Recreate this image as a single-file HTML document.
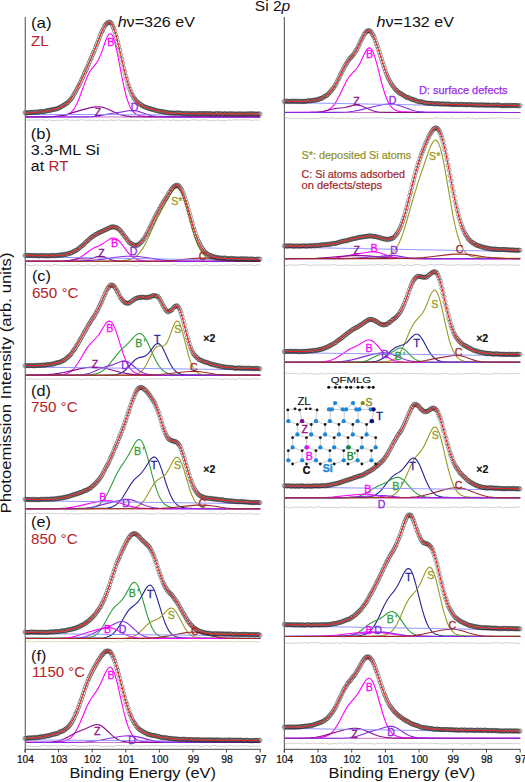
<!DOCTYPE html><html><head><meta charset="utf-8"><style>html,body{margin:0;padding:0;background:#fff;font-family:"Liberation Sans",sans-serif}svg{display:block}</style></head><body><svg width="525" height="782" viewBox="0 0 525 782" font-family="&quot;Liberation Sans&quot;, sans-serif">
<defs><marker id="dc" markerWidth="6" markerHeight="6" refX="3" refY="3" markerUnits="userSpaceOnUse"><circle cx="3" cy="3" r="2.1" fill="none" stroke="#202020" stroke-opacity="0.7" stroke-width="0.6"/></marker></defs>
<rect width="525" height="782" fill="#fff"/>
<path d="M25,120.1 26.7,119.9 28.4,120.5 30,119.8 31.7,120.3 33.4,120.1 35.1,119.8 36.8,120.3 38.4,119.7 40.1,120.2 41.8,119.8 43.5,119.8 46.8,120.7 48.5,119.8 50.2,120 53.6,120.8 55.2,120.4 56.9,120.2 58.6,120.9 60.3,119.8 62,120.7 63.6,120 65.3,119.9 67,119.8 68.7,120.1 70.4,120.7 72,119.9 73.7,120.4 75.4,120.5 77.1,120.1 78.8,120.4 80.4,119.8 82.1,119.8 83.8,119.9 85.5,120.5 87.2,120.2 88.8,120.1 90.5,120.4 93.9,120.1 95.6,120.7 97.2,120.5 98.9,120 100.6,120.4 102.3,120.3 104,120.8 105.6,120.6 107.3,120 109,120.9 110.7,119.8 114,120.6 115.7,119.9 117.4,120.3 119.1,119.7 120.8,120.5 122.4,120.6 124.1,120.4 125.8,120.8 127.5,120.1 129.2,120.5 134.2,120.2 135.9,120.7 137.6,120.8 139.2,120.3 140.9,120.5 142.6,119.8 144.3,120.5 146,120.5 147.6,120.9 149.3,120.7 151,120 152.7,120.2 154.4,120.5 156,119.7 157.7,120.3 159.4,119.9 162.8,119.8 164.4,120.6 166.1,119.9 169.5,120.2 171.2,120.7 172.8,119.8 174.5,120.2 176.2,120.4 177.9,120.8 179.6,120.7 181.2,120.7 182.9,120 184.6,120.2 186.3,120.1 188,120.8 189.6,120.8 191.3,119.9 196.4,120 198,120.3 199.7,120.4 203.1,119.7 204.8,120.2 206.4,120.1 208.1,120.4 209.8,120.8 213.2,120.3 216.5,120.5 218.2,119.8 219.9,120.8 221.6,120.6 223.2,120.7 224.9,120.7 226.6,120.2 228.3,120.2 230,119.8 231.6,120.5 233.3,119.8 235,119.8 236.7,120 238.4,119.9 240,120.1 241.7,119.8 243.4,119.7 245.1,119.9 246.8,119.8 248.4,120.1 250.1,119.7 251.8,120.7 253.5,120.4 255.2,119.9 258.5,120.1 260.2,120.1" stroke="#c8c8c8" stroke-width="0.9" fill="none"/>
<path d="M25,117H260.2" stroke="#c060c0" stroke-width="0.85"/>
<path d="M25,116.8 51,116.6 56.9,116.4 61.1,116.2 64.5,115.7 67,114.9 68.7,114.1 69.5,113.5 71.2,112.2 72.9,110.4 74.6,108 75.4,106.5 77.1,103.3 79.6,97.3 84.6,83.4 86.3,79 88,75.1 88.8,73.4 89.7,71.8 91.4,69.2 95.6,64.1 97.2,61.7 98.1,60.3 98.9,58.7 100.6,54.9 102.3,50.4 105.6,40.8 107.3,36.8 108.2,35.3 109,34.2 109.8,33.7 110.7,33.7 111.5,34.3 112.4,35.4 113.2,37.2 114,39.6 114.9,42.4 115.7,45.8 117.4,53.5 121.6,75.5 123.3,83.8 125,91.2 125.8,94.5 127.5,100.3 129.2,104.9 130,106.7 131.7,109.8 133.4,111.9 134.2,112.8 135.9,114 136.7,114.5 138.4,115.2 140.9,115.8 145.1,116.2 151.8,116.5 165.3,116.7 185.4,116.8 260.2,117" stroke="#ff00ff" stroke-width="1.1" fill="none"/>
<path d="M25,117 41,116.9 48.5,116.8 54.4,116.5 59.4,115.9 62.8,115.4 67,114.4 80.4,110.4 89.7,107.9 92.2,107.4 94.7,106.9 98.1,106.7 99.8,106.8 101.4,107 103.1,107.4 104.8,107.9 108.2,109.2 116.6,113.2 119.1,114.2 121.6,115 124.1,115.6 126.6,116.1 131.7,116.6 138.4,116.8 149.3,116.9 260.2,117" stroke="#8b0d8b" stroke-width="1.1" fill="none"/>
<path d="M25,117 78.8,116.9 86.3,116.9 91.4,116.7 94.7,116.4 98.1,116 101.4,115.4 112.4,113.3 120.8,112.1 128.3,110.8 130.8,110.6 132.5,110.5 135,110.7 136.7,111 138.4,111.4 140.9,112.2 147.6,114.6 151.8,115.7 156,116.4 160.2,116.7 165.3,116.9 174.5,117 260.2,117" stroke="#8a2be2" stroke-width="1.1" fill="none"/>
<path d="M25,114.3L260.2,115.2" stroke="#8a8aff" stroke-width="0.9"/>
<polyline points="25,112.5 26,113 27,113.1 28,112.7 29,112.6 30,112.3 31,112.3 32.1,112.4 33.1,112.3 34.1,112.6 35.1,112.1 36.1,111.9 37.1,112.5 38.1,112.1 39.1,111.7 40.1,111.9 41.1,111.4 42.1,111.6 43.1,111.8 44.2,111.6 45.2,111.3 46.2,110.8 47.2,110.7 48.2,110.4 49.2,110.6 50.2,110.2 51.2,110.2 52.2,109.6 53.2,109.3 54.2,109.5 55.2,109.3 56.2,108.9 57.3,108.6 58.3,108.2 59.3,107.8 60.3,107 61.3,106.8 62.3,106.2 63.3,105.4 64.3,104.8 65.3,104.2 66.3,103.5 67.3,102.9 68.3,102.1 69.4,100.7 70.4,99.9 71.4,98.7 72.4,97.3 73.4,95.4 74.4,93.6 75.4,91.9 76.4,90.1 77.4,88.1 78.4,86.4 79.4,84.5 80.4,82.4 81.4,79.9 82.5,77.8 83.5,75.7 84.5,72.9 85.5,71.1 86.5,69 87.5,66.6 88.5,64.3 89.5,61.8 90.5,59.3 91.5,57.4 92.5,54.7 93.5,52.6 94.6,50.3 95.6,47.4 96.6,44.9 97.6,42.7 98.6,40 99.6,37 100.6,34.5 101.6,32.1 102.6,30.4 103.6,28.3 104.6,25.9 105.6,24.8 106.6,23.7 107.7,22.7 108.7,22.1 109.7,22.3 110.7,22.7 111.7,23.8 112.7,26.2 113.7,28.3 114.7,31 115.7,34.5 116.7,37.8 117.7,42.1 118.7,46.2 119.8,50.2 120.8,54.7 121.8,59.2 122.8,63.5 123.8,68.1 124.8,72 125.8,76 126.8,79.5 127.8,83.4 128.8,86.2 129.8,89.1 130.8,91.7 131.8,94.2 132.9,95.8 133.9,97.9 134.9,99.2 135.9,100.5 136.9,101.7 137.9,102.3 138.9,103.5 139.9,104.1 140.9,104.6 141.9,105.8 142.9,105.8 143.9,106.5 145,107.1 146,107.4 147,107.6 148,108.1 149,108.5 150,108.9 151,108.8 152,109.4 153,109.4 154,109.7 155,110.3 156,110.4 157,110.7 158.1,111 159.1,111.3 160.1,111.2 161.1,111.5 162.1,111.6 163.1,111.8 164.1,112.1 165.1,112.1 166.1,112.3 167.1,112.4 168.1,112.8 169.1,112.8 170.2,113 171.2,113.1 172.2,112.7 173.2,113 174.2,113.4 175.2,113.4 176.2,112.9 177.2,113 178.2,113.2 179.2,113 180.2,113.2 181.2,113.1 182.2,113.6 183.3,113.7 184.3,113.8 185.3,113.3 186.3,113.7 187.3,113.7 188.3,113.3 189.3,113.9 190.3,113.9 191.3,113.4 192.3,114 193.3,113.6 194.3,113.7 195.4,114 196.4,113.9 197.4,113.5 198.4,113.7 199.4,113.7 200.4,113.6 201.4,113.5 202.4,113.6 203.4,113.9 204.4,113.4 205.4,113.8 206.4,113.7 207.4,113.5 208.5,113.7 209.5,113.9 210.5,113.8 211.5,113.5 212.5,114.2 213.5,114 214.5,114.2 215.5,113.6 216.5,113.7 217.5,113.5 218.5,114.1 219.5,113.7 220.6,113.6 221.6,113.8 222.6,114.2 223.6,114.1 224.6,113.7 225.6,113.7 226.6,114.2 227.6,114 228.6,114.1 229.6,113.7 230.6,113.6 231.6,114.1 232.6,113.9 233.7,113.7 234.7,114.3 235.7,114.1 236.7,114.2 237.7,113.7 238.7,114.2 239.7,113.7 240.7,114.3 241.7,114 242.7,113.9 243.7,114.1 244.7,114.3 245.8,113.9 246.8,113.8 247.8,114.1 248.8,113.9 249.8,113.8 250.8,113.8 251.8,113.8 252.8,113.9 253.8,113.9 254.8,113.9 255.8,114.3 256.8,113.9 257.8,114.1 258.9,113.9 259.9,114" fill="none" stroke="none" marker-start="url(#dc)" marker-mid="url(#dc)" marker-end="url(#dc)"/>
<path d="M25,112.8 33.4,112.4 41,111.7 47.7,110.7 51,110 54.4,109.2 56.9,108.5 59.4,107.6 62.8,106 64.5,105 66.2,103.8 67.8,102.3 69.5,100.6 72,97.4 74.6,93.6 77.1,89 80.4,82.1 85.5,70.9 92.2,55.6 94.7,49.6 100.6,34.8 103.1,29.1 104.8,25.9 105.6,24.6 106.5,23.6 107.3,22.8 108.2,22.3 109,22.2 109.8,22.4 110.7,22.9 111.5,23.9 112.4,25.2 113.2,27 114.9,31.5 116.6,37.2 118.2,43.9 123.3,65.9 125.8,76.1 128.3,84.7 130,89.5 130.8,91.6 132.5,95.3 133.4,96.8 135,99.4 135.9,100.5 137.6,102.4 139.2,103.8 140.9,105 143.4,106.3 146.8,107.7 151,109 155.2,110.2 159.4,111.1 163.6,111.9 167.8,112.5 172.8,113 181.2,113.4 193,113.7 260.2,114.1" stroke="#f01e1e" stroke-width="1.05" fill="none"/>
<text x="110.7" y="45.6" fill="#ff00ff" font-size="10.6" text-anchor="middle" stroke="#ff00ff" stroke-width="0.3">B</text>
<text x="98" y="115.5" fill="#8b0d8b" font-size="10.6" text-anchor="middle" stroke="#8b0d8b" stroke-width="0.3">Z</text>
<text x="134.7" y="111.3" fill="#8a2be2" font-size="10.6" text-anchor="middle" stroke="#8a2be2" stroke-width="0.3">D</text>
<path d="M284.3,117.7 286,118 287.7,117.7 289.4,118.6 291,118.4 292.7,117.9 294.4,118.3 296.1,118.8 297.8,117.8 299.5,118.7 301.2,118.2 302.8,118.3 304.5,118.7 306.2,118.2 309.6,118.5 311.3,118.9 312.9,118.1 314.6,118.7 318,118.5 319.7,118.2 321.4,118.1 323.1,117.8 324.7,117.9 326.4,117.8 328.1,118.6 329.8,118 333.2,117.8 334.9,118.7 336.5,118.7 338.2,118.5 339.9,118 343.3,118.1 345,118.3 346.6,117.9 348.3,118.2 350,118 351.7,118.9 353.4,118.9 355.1,118.4 356.8,118 358.4,118.9 360.1,118.1 361.8,118.1 363.5,117.7 365.2,118.2 368.6,118.3 370.2,117.9 371.9,118.3 373.6,117.7 375.3,118 377,117.8 378.7,118.2 380.3,117.8 382,117.7 383.7,118.1 385.4,118 387.1,118.4 388.8,118.3 390.5,118.6 392.1,118.5 393.8,118.6 395.5,118.8 397.2,118.2 398.9,118.1 400.6,118.9 402.2,117.9 403.9,118.6 405.6,118.5 407.3,117.8 409,118.7 410.7,118.8 412.4,118.5 415.7,118.7 417.4,117.9 419.1,118.3 420.8,118.3 422.5,118.7 425.8,118.7 427.5,118.4 429.2,118.8 430.9,118.5 432.6,118.5 434.3,118 436,117.7 437.6,117.9 439.3,118.1 441,117.8 442.7,118.7 444.4,118.4 449.4,118.5 451.1,118.3 452.8,117.7 454.5,118.7 456.2,118.6 457.9,118.3 461.2,118.5 462.9,117.8 464.6,118.6 466.3,118 468,117.8 469.7,118 471.3,118.6 473,117.9 474.7,118.6 476.4,118.9 478.1,118.3 479.8,118.2 484.8,118.6 486.5,118.4 488.2,118.5 489.9,117.8 493.2,118 494.9,118.6 496.6,118.1 498.3,118.4 500,117.7 501.7,117.8 503.4,118 505,118.5 506.7,118.5 508.4,118.5 510.1,118 511.8,118.3 515.1,118.3 516.8,117.8 518.5,118.8 520.2,117.9" stroke="#c8c8c8" stroke-width="0.9" fill="none"/>
<path d="M284.3,112.5H520.2" stroke="#c060c0" stroke-width="0.85"/>
<path d="M284.3,112.4 311.3,112.2 317.2,112 320.5,111.8 323.9,111.3 326.4,110.6 328.1,109.9 329,109.5 330.6,108.3 332.3,106.8 334,104.8 334.9,103.6 336.5,101 339.1,96.3 345,83.9 347.5,79.3 348.3,78 350,75.8 351.7,73.9 355.1,70.5 356.8,68.5 357.6,67.3 358.4,66 360.1,63 364.3,54.1 366,50.9 366.9,49.7 367.7,48.7 368.6,48.1 369.4,47.9 370.2,48.1 371.1,48.8 371.9,49.9 372.8,51.4 373.6,53.3 374.4,55.7 375.3,58.3 377,64.3 381.2,81.1 382.9,87.4 384.6,93 385.4,95.5 387.1,99.8 388.8,103.2 389.6,104.6 391.3,106.9 393,108.6 393.8,109.2 395.5,110.2 398,111.1 401.4,111.7 405.6,111.9 411.5,112.1 445.2,112.4 520.2,112.5" stroke="#ff00ff" stroke-width="1.1" fill="none"/>
<path d="M284.3,112.5 310.4,112.4 315.5,112.2 318.8,112 321.4,111.7 323.9,111.2 334,108.8 337.4,108.2 342.4,107.8 345,107.5 347.5,106.9 353.4,105.3 355.1,105 356.8,104.9 357.6,104.9 359.3,105.2 361.8,106 363.5,106.7 369.4,109.6 372.8,110.8 374.4,111.3 377,111.8 379.5,112.1 382,112.3 387.9,112.4 400.6,112.5 520.2,112.5" stroke="#8b0d8b" stroke-width="1.1" fill="none"/>
<path d="M284.3,112.5 334,112.4 341.6,112.3 347.5,112 353.4,111.3 358.4,110.4 362.7,109.4 374.4,106.5 382,104.8 387.1,104.1 390.5,103.9 393.8,104.2 397.2,104.9 400.6,105.9 409,109.1 411.5,110 414,110.7 416.6,111.2 419.1,111.6 424.2,112.1 430.1,112.3 439.3,112.4 520.2,112.5" stroke="#8a2be2" stroke-width="1.1" fill="none"/>
<path d="M284.3,102.5L520.2,106.8" stroke="#8a8aff" stroke-width="0.9"/>
<polyline points="284.3,101.6 285.3,101.6 286.3,100.9 287.3,101.2 288.3,101.5 289.4,101.6 290.4,101.3 291.4,101.2 292.4,101.1 293.4,101.6 294.4,101.1 295.4,101.4 296.4,101.1 297.4,101.4 298.5,101.7 299.5,101.1 300.5,101.6 301.5,101.3 302.5,101.6 303.5,101.4 304.5,101.1 305.5,101.5 306.5,101.2 307.6,100.8 308.6,100.7 309.6,101 310.6,100.8 311.6,100.6 312.6,100.3 313.6,100.3 314.6,100.1 315.6,100.2 316.7,99.4 317.7,99.7 318.7,99.4 319.7,98.6 320.7,98.7 321.7,98.2 322.7,97.8 323.7,96.9 324.7,96.4 325.8,95.8 326.8,95.5 327.8,94.5 328.8,93.4 329.8,92.5 330.8,91.3 331.8,89.9 332.8,88.6 333.8,87.7 334.9,85.7 335.9,84.4 336.9,82 337.9,80.1 338.9,78.2 339.9,75.8 340.9,73.8 341.9,72.1 342.9,69.9 343.9,67.9 345,65.9 346,64.3 347,62.8 348,61 349,59.9 350,58.2 351,57.5 352,56.2 353,55.2 354.1,53.8 355.1,52.1 356.1,50.3 357.1,49.1 358.1,46.6 359.1,44.8 360.1,42.5 361.1,40.3 362.1,38.5 363.2,36.6 364.2,34.4 365.2,33.1 366.2,31.7 367.2,31.1 368.2,30.7 369.2,30.6 370.2,31.1 371.2,32.2 372.3,34.1 373.3,35.6 374.3,37.6 375.3,40.6 376.3,43.5 377.3,46.1 378.3,49 379.3,52.2 380.3,55.4 381.4,58.8 382.4,61.9 383.4,65.1 384.4,68.1 385.4,71.1 386.4,74 387.4,76.3 388.4,78.4 389.4,80.5 390.5,82.4 391.5,84.1 392.5,85.6 393.5,86.8 394.5,88.2 395.5,89.8 396.5,90.2 397.5,91.3 398.5,92.3 399.6,93.2 400.6,93.4 401.6,94.1 402.6,94.7 403.6,95.4 404.6,96 405.6,96.8 406.6,97.2 407.6,97.7 408.7,97.6 409.7,98 410.7,98.9 411.7,99.4 412.7,99.5 413.7,99.9 414.7,99.9 415.7,100.5 416.7,101.1 417.8,101.4 418.8,101.6 419.8,102 420.8,101.7 421.8,101.8 422.8,102 423.8,102.5 424.8,102.8 425.8,103.1 426.9,103.1 427.9,103.2 428.9,103.4 429.9,103.3 430.9,103.4 431.9,103.2 432.9,103.8 433.9,103.5 434.9,104 436,103.9 437,103.7 438,103.6 439,103.8 440,104.1 441,104.2 442,103.8 443,103.8 444,104.1 445,104.2 446.1,104.1 447.1,104 448.1,104.3 449.1,103.9 450.1,104.2 451.1,104.3 452.1,104.7 453.1,104.5 454.1,104.7 455.2,104.4 456.2,104.3 457.2,104.3 458.2,104.8 459.2,104.7 460.2,104.4 461.2,104.2 462.2,104.6 463.2,104.7 464.3,104.6 465.3,104.5 466.3,104.8 467.3,105 468.3,104.5 469.3,104.4 470.3,104.7 471.3,104.7 472.3,104.9 473.4,104.6 474.4,105.1 475.4,105 476.4,104.9 477.4,104.7 478.4,105.3 479.4,104.8 480.4,105.2 481.4,104.8 482.5,104.8 483.5,105.2 484.5,104.9 485.5,105.4 486.5,105.1 487.5,104.9 488.5,105 489.5,105.1 490.5,105.3 491.6,105.5 492.6,105 493.6,105.2 494.6,105.1 495.6,105.6 496.6,105.1 497.6,105 498.6,105 499.6,105.3 500.7,105.7 501.7,105.7 502.7,105.6 503.7,105.8 504.7,105.8 505.7,105.4 506.7,105.3 507.7,105.8 508.7,105.7 509.8,105.2 510.8,105.7 511.8,105.5 512.8,105.5 513.8,105.5 514.8,105.4 515.8,105.3 516.8,105.6 517.8,105.6 518.9,106.1 519.9,105.5" fill="none" stroke="none" marker-start="url(#dc)" marker-mid="url(#dc)" marker-end="url(#dc)"/>
<path d="M284.3,101.2 296.9,101.3 303.7,101.3 308.7,101 312.9,100.5 317.2,99.6 319.7,98.8 321.4,98.2 323.1,97.4 324.7,96.5 326.4,95.4 328.1,94.1 329.8,92.6 331.5,90.7 333.2,88.4 334.9,85.8 337.4,81.2 342.4,70.7 345,65.8 346.6,63 348.3,60.6 353.4,54.6 355.1,52.3 355.9,50.9 358.4,46.2 362.7,37.3 364.3,34.3 365.2,33 366,32 366.9,31.3 367.7,30.8 368.6,30.7 369.4,30.9 370.2,31.4 371.1,32.2 371.9,33.3 372.8,34.7 374.4,38.2 377,45.1 382.9,63.7 385.4,71.1 387.9,77.3 390.5,82.4 391.3,83.9 393,86.4 394.7,88.5 396.4,90.3 398,91.8 400.6,93.6 403.1,95.2 405.6,96.5 408.1,97.7 411.5,99.1 414.9,100.3 418.3,101.3 421.6,102.1 425,102.7 428.4,103.1 432.6,103.5 440.2,104 452,104.4 520.2,105.8" stroke="#f01e1e" stroke-width="1.05" fill="none"/>
<text x="369.6" y="58.3" fill="#ff00ff" font-size="10.6" text-anchor="middle" stroke="#ff00ff" stroke-width="0.3">B</text>
<text x="356.4" y="105.2" fill="#8b0d8b" font-size="10.6" text-anchor="middle" stroke="#8b0d8b" stroke-width="0.3">Z</text>
<text x="392.7" y="103.5" fill="#8a2be2" font-size="10.6" text-anchor="middle" stroke="#8a2be2" stroke-width="0.3">D</text>
<path d="M25,265.9 26.7,264.9 28.4,265.1 30,265.7 31.7,265.7 35.1,264.8 36.8,265.3 38.4,265.1 40.1,265.8 41.8,264.9 43.5,265.1 45.2,265.8 46.8,264.7 50.2,265.7 51.9,265.6 53.6,264.7 55.2,264.7 56.9,264.8 58.6,265.8 60.3,265 62,265.6 63.6,265.8 65.3,265.1 67,265 68.7,265.8 72,265 73.7,265.6 75.4,265.1 77.1,265 78.8,264.7 80.4,265.6 82.1,265.8 83.8,265.5 85.5,265.8 87.2,264.7 90.5,265.3 92.2,265.8 93.9,265.8 95.6,265.2 97.2,265 98.9,265.2 100.6,265.3 102.3,265.8 104,264.9 105.6,265.7 107.3,265.6 109,265.7 110.7,265.6 112.4,265.4 114,265.1 115.7,265.1 117.4,265.1 119.1,265.6 120.8,264.8 122.4,264.9 124.1,265.6 125.8,265 127.5,264.8 129.2,264.7 130.8,265.4 132.5,265.1 134.2,265.9 135.9,265.8 137.6,265.9 139.2,265 140.9,264.8 142.6,264.8 144.3,265.3 146,265.6 149.3,265 152.7,265.4 157.7,265.7 159.4,265.5 161.1,264.8 162.8,265.7 164.4,265.1 166.1,265.4 167.8,265.1 169.5,265.6 171.2,264.9 174.5,265 176.2,264.9 177.9,265.8 181.2,265.1 182.9,265.2 184.6,265.9 186.3,265.3 188,265 189.6,265.7 191.3,265.5 193,265.9 194.7,264.8 198,265.7 201.4,265.8 203.1,264.7 204.8,265.1 206.4,264.8 208.1,264.9 209.8,265.9 211.5,265.4 213.2,265.8 214.8,265.1 216.5,265.7 218.2,265.2 219.9,265 221.6,265.6 223.2,265.8 224.9,264.8 226.6,265.4 228.3,265.4 230,265 231.6,265.1 233.3,264.9 236.7,265 238.4,265.4 240,265.5 241.7,264.9 243.4,264.7 246.8,265.5 248.4,264.9 250.1,265.1 251.8,264.9 253.5,265.7 255.2,265.4 256.8,264.8 258.5,264.8 260.2,265.2" stroke="#c8c8c8" stroke-width="0.9" fill="none"/>
<path d="M25,261.3H260.2" stroke="#c060c0" stroke-width="0.85"/>
<path d="M25,261.2 87.2,261.1 116.6,260.8 122.4,260.6 126.6,260.1 130,259.4 132.5,258.5 135,257 136.7,255.8 137.6,255 140.1,252.2 142.6,248.6 144.3,245.7 146.8,240.9 149.3,235.5 154.4,224.3 157.7,217.4 161.1,211 169.5,195.7 172,191.7 173.7,189.6 174.5,188.8 175.4,188.2 176.2,187.9 177,187.8 177.9,188 178.7,188.6 179.6,189.4 180.4,190.6 181.2,192.1 182.9,195.9 184.6,200.7 186.3,206.3 193,230.9 194.7,236.3 196.4,241.2 198,245.4 198.9,247.3 200.6,250.5 202.2,253.1 203.1,254.2 204.8,256 205.6,256.7 207.3,257.9 209.8,259.1 211.5,259.6 213.2,260 216.5,260.4 220.7,260.7 228.3,260.9 260.2,261.1" stroke="#9a9a22" stroke-width="1.1" fill="none"/>
<path d="M25,261.2 52.7,261.2 62.8,261.1 68.7,260.8 71.2,260.4 73.7,259.9 75.4,259.4 77.1,258.8 79.6,257.6 83,255.5 88.8,251.2 92.2,248.9 94.7,247.6 99.8,245.4 102.3,244 104.8,242.4 108.2,240.1 109.8,239.1 111.5,238.3 113.2,238 114,238 114.9,238.2 115.7,238.5 117.4,239.5 119.1,241 121.6,244 127.5,251.9 130,254.8 131.7,256.3 133.4,257.6 135.9,259 138.4,259.9 140.9,260.5 143.4,260.8 146.8,261 156.9,261.2 260.2,261.3" stroke="#ff00ff" stroke-width="1.1" fill="none"/>
<path d="M25,261.3 56.9,261.3 64.5,261.1 67,260.8 69.5,260.5 76.2,259.1 78.8,258.7 81.3,258.7 87.2,259 89.7,258.9 92.2,258.3 96.4,256.9 98.1,256.5 99.8,256.2 100.6,256.2 102.3,256.4 104,256.8 109.8,259.3 111.5,259.9 113.2,260.3 116.6,260.9 120.8,261.2 140.9,261.3 260.2,261.3" stroke="#8b0d8b" stroke-width="1.1" fill="none"/>
<path d="M25,261.3 67,261.2 76.2,261.1 83.8,260.8 90.5,260.4 97.2,259.8 103.1,259.1 115.7,257.3 120.8,256.7 125.8,256.3 130.8,256.2 135,256.3 140.1,256.7 144.3,257.3 156,259.1 161.9,259.9 168.6,260.5 176.2,260.9 183.8,261.1 194.7,261.2 260.2,261.3" stroke="#8a2be2" stroke-width="1.1" fill="none"/>
<path d="M25,261.3 137.6,261.3 156,261.2 162.8,261 168.6,260.6 174.5,260.2 192.2,258.5 198,258.1 202.2,258 205.6,258.1 209.8,258.3 224.9,260.2 232.5,260.9 242.6,261.2 260.2,261.3" stroke="#a0282a" stroke-width="1.1" fill="none"/>
<path d="M25,256.7L260.2,260.6" stroke="#8a8aff" stroke-width="0.9"/>
<polyline points="25,255.5 26,255.6 27,255.2 28,255.3 29,255.7 30,255.5 31,255.4 32.1,255.5 33.1,255.9 34.1,255.5 35.1,255.7 36.1,255.5 37.1,255.6 38.1,255.9 39.1,256 40.1,255.6 41.1,255.5 42.1,255.9 43.1,255.5 44.2,255.4 45.2,256 46.2,255.7 47.2,255.9 48.2,255.6 49.2,256 50.2,255.7 51.2,255.4 52.2,255.3 53.2,255.7 54.2,255.7 55.2,255.8 56.2,255.2 57.3,255.5 58.3,255.3 59.3,255.3 60.3,254.9 61.3,254.9 62.3,255 63.3,255.1 64.3,254.3 65.3,254.4 66.3,254.4 67.3,254.3 68.3,253.4 69.4,253.1 70.4,253.3 71.4,252.9 72.4,252.2 73.4,251.4 74.4,251.5 75.4,250.6 76.4,250.3 77.4,249.5 78.4,248.9 79.4,247.7 80.4,247.4 81.4,246.2 82.5,245.4 83.5,244.8 84.5,243.9 85.5,242.5 86.5,241.6 87.5,240.8 88.5,240 89.5,239 90.5,237.9 91.5,237.2 92.5,236.7 93.5,236.1 94.6,234.9 95.6,234.6 96.6,234.2 97.6,233.2 98.6,233.2 99.6,232.3 100.6,232.1 101.6,231.6 102.6,231.2 103.6,230.5 104.6,230.1 105.6,229.7 106.6,229.1 107.7,228.8 108.7,228.2 109.7,227.7 110.7,227.1 111.7,227.2 112.7,226.9 113.7,226.7 114.7,227.2 115.7,227.5 116.7,227.7 117.7,228.2 118.7,229.2 119.8,230 120.8,231.1 121.8,232.5 122.8,233.6 123.8,235.2 124.8,236.6 125.8,237.6 126.8,239.3 127.8,240.2 128.8,241.8 129.8,242.8 130.8,243.5 131.8,243.9 132.9,244.8 133.9,245.1 134.9,245.7 135.9,245.1 136.9,245.4 137.9,245.1 138.9,244.3 139.9,243.6 140.9,242.2 141.9,241.7 142.9,240 143.9,238.9 145,237.3 146,235 147,233.7 148,231.8 149,229.2 150,227.4 151,225.6 152,223.1 153,221.5 154,219 155,217.4 156,214.9 157,213.3 158.1,211.7 159.1,209.4 160.1,207.7 161.1,206.1 162.1,204.3 163.1,202.4 164.1,200.9 165.1,199.2 166.1,198.1 167.1,196.2 168.1,194.7 169.1,192.6 170.2,191.5 171.2,189.5 172.2,188.5 173.2,187.3 174.2,186.2 175.2,185.8 176.2,185.2 177.2,185.2 178.2,185.8 179.2,186 180.2,187.8 181.2,189.2 182.2,191 183.3,193.7 184.3,196 185.3,199.5 186.3,202.5 187.3,205.7 188.3,209.6 189.3,213 190.3,216.4 191.3,220.4 192.3,223.4 193.3,227.3 194.3,230.2 195.4,233.5 196.4,236.6 197.4,238.9 198.4,241.4 199.4,243.4 200.4,245.1 201.4,246.9 202.4,248.6 203.4,250.3 204.4,251.3 205.4,252.5 206.4,253.6 207.4,253.9 208.5,254.6 209.5,255.5 210.5,255.5 211.5,255.9 212.5,256.5 213.5,256.7 214.5,257.1 215.5,257.2 216.5,257.7 217.5,257.8 218.5,257.7 219.5,258.1 220.6,258.1 221.6,257.9 222.6,258.6 223.6,258.1 224.6,258.1 225.6,258.1 226.6,258.6 227.6,258.8 228.6,258.8 229.6,258.5 230.6,258.5 231.6,258.3 232.6,258.8 233.7,258.8 234.7,258.7 235.7,258.9 236.7,258.8 237.7,259.2 238.7,259.1 239.7,258.7 240.7,259.2 241.7,258.6 242.7,259 243.7,259 244.7,258.9 245.8,258.8 246.8,259.3 247.8,258.8 248.8,259.2 249.8,259.5 250.8,258.9 251.8,259 252.8,259.3 253.8,259.3 254.8,259.4 255.8,259.5 256.8,259.1 257.8,259.2 258.9,259.2 259.9,259.1" fill="none" stroke="none" marker-start="url(#dc)" marker-mid="url(#dc)" marker-end="url(#dc)"/>
<path d="M25,255.5 46,255.7 51.9,255.7 56.1,255.5 60.3,255.2 63.6,254.7 67,254 69.5,253.3 72,252.3 74.6,251.1 77.1,249.6 78.8,248.5 80.4,247.2 83,245.1 90.5,238.2 93,236.2 94.7,235.1 98.1,233.2 109,228 111.5,227.1 113.2,226.9 114.9,227.1 116.6,227.7 117.4,228.2 119.1,229.6 121.6,232.4 127.5,240.1 129.2,242 130.8,243.5 132.5,244.6 134.2,245.2 135,245.4 135.9,245.3 136.7,245.2 137.6,244.9 139.2,243.9 140.9,242.4 142.6,240.5 145.1,236.7 146.8,233.8 148.5,230.5 155.2,216.8 158.6,210.5 162.8,203.3 170.3,191 172,188.6 173.7,186.7 174.5,186 175.4,185.5 176.2,185.2 177,185.1 177.9,185.4 178.7,185.8 179.6,186.6 180.4,187.7 181.2,189.1 182.9,192.6 184.6,197.1 186.3,202.4 193,226 194.7,231.4 196.4,236.3 198,240.5 198.9,242.4 200.6,245.8 201.4,247.2 203.1,249.7 203.9,250.8 205.6,252.6 206.4,253.4 208.1,254.6 210.6,255.9 212.3,256.6 214,257.1 215.7,257.4 218.2,257.8 223.2,258.3 230,258.6 260.2,259.4" stroke="#f01e1e" stroke-width="1.05" fill="none"/>
<text x="176.8" y="205.1" fill="#9a9a22" font-size="10.6" text-anchor="middle" stroke="#9a9a22" stroke-width="0.3">S*</text>
<text x="114.6" y="247.3" fill="#ff00ff" font-size="10.6" text-anchor="middle" stroke="#ff00ff" stroke-width="0.3">B</text>
<text x="101.4" y="256.5" fill="#8b0d8b" font-size="10.6" text-anchor="middle" stroke="#8b0d8b" stroke-width="0.3">Z</text>
<text x="133.7" y="255.3" fill="#8a2be2" font-size="10.6" text-anchor="middle" stroke="#8a2be2" stroke-width="0.3">D</text>
<text x="202.6" y="260.4" fill="#a0282a" font-size="10.6" text-anchor="middle" stroke="#a0282a" stroke-width="0.3">C</text>
<path d="M284.3,265.5 287.7,265.3 289.4,264.4 291,265.4 292.7,265.3 294.4,265 296.1,265.3 299.5,264.7 301.2,264.5 302.8,264.7 304.5,264.4 306.2,264.8 307.9,265.3 309.6,265.2 311.3,265.4 312.9,265.3 314.6,264.7 316.3,265.1 318,264.9 319.7,265.3 323.1,264.7 326.4,265.6 328.1,264.7 329.8,265.5 331.5,264.4 333.2,264.7 334.9,264.7 336.5,265.3 338.2,265.5 339.9,265.3 341.6,264.8 343.3,265.5 345,264.8 346.6,264.7 348.3,265.5 350,265.2 353.4,265.2 355.1,265.6 356.8,265 358.4,265.4 360.1,265.2 361.8,265.4 363.5,264.9 365.2,265.3 366.9,265.1 368.6,264.8 370.2,264.7 371.9,265.1 373.6,264.5 375.3,265.5 377,264.6 378.7,264.4 380.3,264.5 382,265.5 383.7,264.8 387.1,264.4 388.8,264.4 390.5,265.2 392.1,265.2 395.5,265.3 397.2,264.5 398.9,265.1 400.6,264.8 402.2,265.4 405.6,265.5 407.3,264.5 409,265.4 412.4,265.5 414,264.5 415.7,264.6 419.1,264.4 420.8,265.4 422.5,265.4 424.2,265.2 425.8,265.4 427.5,265.2 429.2,264.7 430.9,264.5 432.6,264.5 434.3,265.3 436,264.6 439.3,264.9 441,264.4 442.7,264.7 444.4,264.7 446.1,265.3 447.7,264.8 449.4,264.8 451.1,265.6 452.8,265 454.5,265.4 456.2,265.1 457.9,264.4 459.5,264.9 461.2,264.9 462.9,265.3 464.6,264.8 466.3,265.2 468,265 469.7,264.7 471.3,265.4 473,264.5 474.7,265.4 476.4,264.6 478.1,264.4 479.8,264.6 481.4,265.3 483.1,265.6 484.8,264.4 486.5,265 488.2,265 489.9,265.4 491.6,264.6 493.2,265 494.9,264.8 496.6,265.4 498.3,264.7 500,265.5 501.7,264.7 503.4,264.7 505,265.2 506.7,265 508.4,264.5 510.1,265.2 511.8,264.5 513.5,265.3 515.1,265.2 516.8,265.3 518.5,265.2 520.2,264.8" stroke="#c8c8c8" stroke-width="0.9" fill="none"/>
<path d="M284.3,258.6H520.2" stroke="#c060c0" stroke-width="0.85"/>
<path d="M284.3,258.5 345.8,258.3 364.3,258.1 375.3,257.8 381.2,257.4 383.7,257 385.4,256.7 387.1,256.1 388.8,255.4 390.5,254.4 391.3,253.8 393,252.4 393.8,251.5 395.5,249.3 396.4,248.1 398,245.1 398.9,243.5 401.4,237.5 403.1,232.9 405.6,225 413.2,198.3 416.6,187.1 419.9,176.8 426.7,157 429.2,149.9 430.9,145.8 431.7,144.1 432.6,142.6 433.4,141.4 434.3,140.6 435.1,140.1 436,140.2 436.8,140.7 437.6,141.6 438.5,143.1 439.3,145.1 440.2,147.6 441,150.5 442.7,157.7 444.4,166.2 452,210.2 453.6,218.9 455.3,226.7 457,233.4 457.9,236.3 459.5,241.4 461.2,245.5 462.1,247.3 463.8,250.1 464.6,251.3 466.3,253.1 467.1,253.9 468.8,255 470.5,255.9 472.2,256.5 473.9,256.9 475.5,257.2 480.6,257.6 488.2,257.9 501.7,258.2 520.2,258.3" stroke="#9a9a22" stroke-width="1.1" fill="none"/>
<path d="M284.3,258.6 321.4,258.5 327.3,258.4 332.3,258.2 336.5,257.7 339.9,257.2 351.7,254.9 367.7,252.2 370.2,251.8 372.8,251.7 375.3,251.9 377,252.1 378.7,252.5 381.2,253.3 388.8,256.1 393,257.2 397.2,257.9 402.2,258.3 408.1,258.5 418.3,258.6 520.2,258.6" stroke="#ff00ff" stroke-width="1.1" fill="none"/>
<path d="M284.3,258.6 303.7,258.5 316.3,258.2 327.3,257.5 347.5,255.9 352.5,255.6 357.6,255.5 362.7,255.6 367.7,255.9 383.7,257.4 390.5,257.9 397.2,258.3 403.9,258.4 424.2,258.6 520.2,258.6" stroke="#8b0d8b" stroke-width="1.1" fill="none"/>
<path d="M284.3,258.6 339.9,258.6 351.7,258.4 357.6,258.1 370.2,257 380.3,256.4 388.8,255.6 392.1,255.5 394.7,255.6 397.2,255.9 405.6,257.4 409.8,258 414,258.3 418.3,258.5 432.6,258.6 520.2,258.6" stroke="#8a2be2" stroke-width="1.1" fill="none"/>
<path d="M284.3,258.6 387.9,258.6 400.6,258.5 409,258.4 416.6,258 423.3,257.6 430.9,256.8 448.6,254.6 454.5,254.1 459.5,254 463.8,254.1 468.8,254.6 473,255.1 485.7,257 490.7,257.6 494.9,257.9 505,258.4 520.2,258.6" stroke="#a0282a" stroke-width="1.1" fill="none"/>
<path d="M284.3,247.2L520.2,251.6" stroke="#8a8aff" stroke-width="0.9"/>
<polyline points="284.3,245.9 285.3,245.9 286.3,246.3 287.3,245.7 288.3,246.3 289.4,245.7 290.4,245.8 291.4,245.9 292.4,246.3 293.4,246.1 294.4,246 295.4,246.3 296.4,245.9 297.4,246 298.5,246.1 299.5,246.2 300.5,246.2 301.5,246.1 302.5,245.9 303.5,245.9 304.5,245.8 305.5,246.2 306.5,246.1 307.6,246.1 308.6,245.7 309.6,245.8 310.6,246 311.6,245.8 312.6,245.5 313.6,245.7 314.6,245.9 315.6,245.4 316.7,245.3 317.7,245.3 318.7,245.5 319.7,245.5 320.7,245 321.7,244.9 322.7,244.8 323.7,244.8 324.7,244.8 325.8,244.5 326.8,244.5 327.8,244.2 328.8,244.6 329.8,244.3 330.8,243.7 331.8,244.2 332.8,243.4 333.8,243.4 334.9,243.6 335.9,243.3 336.9,243.1 337.9,242.6 338.9,242.2 339.9,242.3 340.9,241.7 341.9,241.5 342.9,241.4 343.9,240.9 345,240.9 346,240.9 347,240.6 348,240.2 349,240 350,239.6 351,239.1 352,239.2 353,238.8 354.1,238.7 355.1,238.6 356.1,238 357.1,237.9 358.1,237.8 359.1,237.4 360.1,237 361.1,237.2 362.1,237.1 363.2,236.9 364.2,236.6 365.2,236.6 366.2,236.4 367.2,236.3 368.2,236.1 369.2,235.9 370.2,236.1 371.2,235.8 372.3,236.1 373.3,236.5 374.3,236.5 375.3,236.7 376.3,236.6 377.3,237 378.3,237.3 379.3,237.7 380.3,237.8 381.4,238.3 382.4,238.7 383.4,238.5 384.4,239 385.4,239.3 386.4,239.2 387.4,239.3 388.4,239.7 389.4,238.9 390.5,239 391.5,238.4 392.5,238.3 393.5,237.8 394.5,236.6 395.5,235.3 396.5,234.3 397.5,232.8 398.5,231.1 399.6,228.9 400.6,226.7 401.6,224.3 402.6,221.3 403.6,218.2 404.6,215.3 405.6,211.3 406.6,207.9 407.6,203.9 408.7,200.2 409.7,195.7 410.7,192.2 411.7,187.7 412.7,183.5 413.7,179.7 414.7,175.9 415.7,171.9 416.7,168.6 417.8,165.2 418.8,162.2 419.8,158.9 420.8,155.9 421.8,153.1 422.8,150.8 423.8,148.4 424.8,145.6 425.8,143 426.9,141.1 427.9,138.5 428.9,136.3 429.9,134.2 430.9,132.8 431.9,131.2 432.9,129.8 433.9,128.7 434.9,128.1 436,127.7 437,128.5 438,129 439,130.6 440,132.6 441,135.1 442,137.9 443,141.4 444,145.6 445,149.7 446.1,154.9 447.1,159.6 448.1,165.1 449.1,170.1 450.1,175.5 451.1,180.8 452.1,186.3 453.1,191.3 454.1,196.2 455.2,201.5 456.2,205.7 457.2,209.9 458.2,214 459.2,217.8 460.2,221.1 461.2,224.4 462.2,227.2 463.2,229.5 464.3,232.1 465.3,234.1 466.3,235.3 467.3,237.4 468.3,238.8 469.3,240 470.3,240.6 471.3,242 472.3,242.7 473.4,243 474.4,243.6 475.4,244.8 476.4,245.1 477.4,245.3 478.4,245.6 479.4,246 480.4,246.4 481.4,247 482.5,247 483.5,247.1 484.5,247.9 485.5,248 486.5,247.8 487.5,248.4 488.5,248.4 489.5,248.7 490.5,248.7 491.6,249 492.6,249.1 493.6,249.2 494.6,248.9 495.6,249.3 496.6,249.3 497.6,249.5 498.6,249.3 499.6,249.7 500.7,249.6 501.7,249.4 502.7,249.4 503.7,249.4 504.7,249.7 505.7,249.5 506.7,249.8 507.7,249.6 508.7,249.9 509.8,249.9 510.8,250 511.8,250.3 512.8,249.7 513.8,250.3 514.8,250.1 515.8,250.2 516.8,250.3 517.8,250.4 518.9,250.1 519.9,250.2" fill="none" stroke="none" marker-start="url(#dc)" marker-mid="url(#dc)" marker-end="url(#dc)"/>
<path d="M284.3,246 297.8,246.1 307.9,245.9 317.2,245.5 325.6,244.7 331.5,243.9 336.5,243 341.6,241.8 352.5,239 357.6,237.8 362.7,236.7 366.9,236.2 369.4,236 371.1,236.1 374.4,236.4 377.8,237.2 383.7,238.8 385.4,239.1 387.1,239.3 388.8,239.3 390.5,239 392.1,238.3 393.8,237.2 395.5,235.5 396.4,234.5 398,231.9 398.9,230.3 400.6,226.6 401.4,224.5 403.1,219.8 404.8,214.4 406.5,208.4 414,178.5 416.6,169.3 419.1,161 420.8,156.1 422.5,151.5 425,145.2 427.5,139.3 429.2,135.8 430.9,132.6 432.6,130.1 433.4,129.1 434.3,128.4 435.1,128 436,127.9 436.8,128.1 437.6,128.7 438.5,129.7 439.3,131 440.2,132.8 441,134.9 442.7,140.3 444.4,147 446.1,154.7 453.6,194 456.2,205.8 457.9,212.8 459.5,219 460.4,221.7 462.1,226.6 462.9,228.8 464.6,232.5 465.4,234.2 467.1,236.9 468,238.1 469.7,240.1 471.3,241.8 473,243.1 474.7,244.1 477.2,245.4 479.8,246.3 482.3,247.1 484.8,247.7 488.2,248.3 491.6,248.7 495.8,249.2 505,249.7 520.2,250.3" stroke="#f01e1e" stroke-width="1.05" fill="none"/>
<text x="434.7" y="159.8" fill="#9a9a22" font-size="10.6" text-anchor="middle" stroke="#9a9a22" stroke-width="0.3">S*</text>
<text x="374.1" y="251.6" fill="#ff00ff" font-size="10.6" text-anchor="middle" stroke="#ff00ff" stroke-width="0.3">B</text>
<text x="356.8" y="254.1" fill="#8b0d8b" font-size="10.6" text-anchor="middle" stroke="#8b0d8b" stroke-width="0.3">Z</text>
<text x="394.2" y="254.1" fill="#8a2be2" font-size="10.6" text-anchor="middle" stroke="#8a2be2" stroke-width="0.3">D</text>
<text x="459.5" y="253.3" fill="#a0282a" font-size="10.6" text-anchor="middle" stroke="#a0282a" stroke-width="0.3">C</text>
<path d="M25,379.6 26.7,378.5 28.4,379.2 30,379.2 31.7,378.4 33.4,379.1 35.1,379.2 36.8,379.5 38.4,378.8 40.1,379.6 41.8,379 43.5,379 45.2,379.5 46.8,378.4 48.5,379.3 50.2,379.2 51.9,378.8 53.6,379.4 55.2,378.8 58.6,379 60.3,379.3 62,378.7 63.6,378.9 65.3,378.9 67,379.1 68.7,379.4 70.4,378.8 72,379.4 73.7,378.9 75.4,379 77.1,378.7 78.8,379 80.4,379.6 82.1,379.2 83.8,379.4 85.5,378.8 88.8,378.8 90.5,379.1 92.2,379.2 93.9,379.3 95.6,378.4 97.2,379.3 98.9,379.5 100.6,379.1 102.3,378.5 104,378.8 105.6,378.4 107.3,378.6 109,379.5 110.7,379.1 112.4,379.2 115.7,379.5 117.4,379.1 122.4,379.2 124.1,379.1 125.8,379.2 127.5,378.7 129.2,379.2 130.8,378.9 132.5,379.3 134.2,378.5 135.9,378.6 137.6,378.4 139.2,379.3 140.9,379.5 144.3,378.8 146,379.4 147.6,379.3 151,378.7 154.4,378.9 156,378.8 157.7,378.9 161.1,379.5 162.8,378.5 164.4,379.1 166.1,378.4 167.8,378.5 169.5,379.4 171.2,379.1 172.8,379.5 176.2,378.4 177.9,378.9 179.6,379.1 181.2,379.5 182.9,379.6 184.6,379 186.3,378.9 188,378.5 189.6,379.2 191.3,378.7 194.7,378.4 196.4,378.4 198,379.2 199.7,378.5 201.4,379.6 203.1,378.5 204.8,379.4 206.4,378.6 208.1,378.4 209.8,379.3 211.5,378.7 213.2,379.3 214.8,378.6 216.5,378.5 218.2,379.3 219.9,379.3 221.6,379.4 223.2,379.3 224.9,378.5 226.6,379.2 228.3,379.3 230,379 231.6,379.5 233.3,378.7 235,379.6 236.7,379.3 238.4,378.4 240,378.4 241.7,379.2 243.4,379.4 245.1,378.5 246.8,378.8 248.4,379.3 250.1,378.6 251.8,379.4 255.2,378.5 258.5,379.1 260.2,378.9" stroke="#c8c8c8" stroke-width="0.9" fill="none"/>
<path d="M25,375.3H260.2" stroke="#c060c0" stroke-width="0.85"/>
<path d="M25,375.2 51,375 56.9,374.9 60.3,374.7 63.6,374.3 66.2,373.7 68.7,372.7 70.4,371.7 72,370.4 73.7,368.8 76.2,365.7 77.9,363.3 79.6,360.5 85.5,350.4 88,346.6 90.5,343.6 95.6,338.5 98.1,335.5 99.8,333.1 104,326.2 105.6,323.7 106.5,322.7 107.3,321.9 108.2,321.3 109,321 109.8,321.1 110.7,321.4 111.5,322.1 112.4,323.2 113.2,324.6 114.9,328.2 115.7,330.4 117.4,335.3 121.6,348.9 123.3,354 125.8,360.6 127.5,364.2 129.2,367.1 130,368.3 131.7,370.2 132.5,371 134.2,372.3 135,372.7 136.7,373.5 139.2,374.1 142.6,374.6 146.8,374.8 153.5,375 187.1,375.2 260.2,375.3" stroke="#ff00ff" stroke-width="1.1" fill="none"/>
<path d="M25,375.2 67.8,375.1 85.5,374.9 89.7,374.7 93,374.4 95.6,373.9 98.1,373.2 100.6,372 102.3,371 104,369.7 105.6,368.3 107.3,366.6 109,364.7 116.6,355.1 119.9,351.2 127.5,343.9 133.4,337.6 135,335.9 136.7,334.5 137.6,334 138.4,333.7 139.2,333.5 140.1,333.5 140.9,333.7 141.8,334.2 142.6,334.8 143.4,335.7 145.1,338 146,339.4 147.6,342.6 153.5,355.8 155.2,359.3 157.7,363.9 159.4,366.5 161.1,368.6 161.9,369.5 163.6,371 165.3,372.1 167.8,373.3 170.3,374.1 172.8,374.5 176.2,374.8 181.2,375 206.4,375.2 260.2,375.3" stroke="#2f9e3a" stroke-width="1.1" fill="none"/>
<path d="M25,375.3 78.8,375.2 104.8,375.1 112.4,374.9 114.9,374.7 117.4,374.3 119.9,373.5 121.6,372.8 123.3,371.8 125,370.5 127.5,368.1 133.4,361.5 135,359.9 136.7,358.7 137.6,358.3 139.2,357.6 142.6,356.9 144.3,356.4 146,355.6 146.8,354.9 147.6,354.2 149.3,352.4 154.4,345.7 155.2,344.8 156,344.2 156.9,343.7 157.7,343.5 158.6,343.6 159.4,344 160.2,344.6 161.1,345.6 161.9,346.7 162.8,348.1 164.4,351.4 169.5,362.4 171.2,365.5 172.8,368.1 174.5,370.2 176.2,371.8 177.9,372.9 178.7,373.3 180.4,374 182.1,374.4 184.6,374.7 188,375 192.2,375.1 214,375.2 260.2,375.3" stroke="#23239a" stroke-width="1.1" fill="none"/>
<path d="M25,375.3 93.9,375.2 124.1,375 129.2,374.9 132.5,374.7 135,374.4 137.6,373.7 139.2,372.9 140.9,371.7 142.6,370.1 144.3,367.9 145.1,366.7 146.8,363.8 152.7,351.9 154.4,349.2 155.2,348.1 156,347.2 156.9,346.6 157.7,346.2 158.6,346 159.4,345.9 161.9,346.1 162.8,346 163.6,345.8 164.4,345.4 165.3,344.7 166.1,343.7 167,342.4 167.8,340.8 168.6,339 170.3,334.6 172.8,327.6 174.5,323.7 175.4,322.3 176.2,321.4 177,321 177.9,321.2 178.7,322 179.6,323.3 180.4,325.2 181.2,327.6 182.9,333.4 188,353.5 189.6,359.2 191.3,363.8 192.2,365.7 193.8,368.8 194.7,370 195.5,371 197.2,372.5 198.9,373.4 199.7,373.8 201.4,374.2 203.9,374.6 207.3,374.8 224.1,375.1 260.2,375.2" stroke="#9a9a22" stroke-width="1.1" fill="none"/>
<path d="M25,375.2 35.1,375.1 41.8,374.9 47.7,374.6 53.6,374.1 58.6,373.4 63.6,372.5 68.7,371.4 79.6,368.9 84.6,367.9 89.7,367.2 92.2,367 94.7,367 98.9,367.2 101.4,367.6 104,368 108.2,369 119.9,372.2 125.8,373.4 129.2,373.9 132.5,374.4 139.2,374.9 147.6,375.1 159.4,375.2 260.2,375.3" stroke="#8b0d8b" stroke-width="1.1" fill="none"/>
<path d="M25,375.3 72.9,375.2 79.6,374.9 83.8,374.5 87.2,373.9 89.7,373.2 93,371.9 99.8,368.9 103.1,367.6 112.4,364.9 120.8,361.6 122.4,361.1 124.1,361 125.8,361.2 126.6,361.4 127.5,361.8 129.2,362.6 131.7,364.5 136.7,368.7 138.4,370 140.1,371.2 141.8,372.2 143.4,373 146,373.8 148.5,374.4 151,374.8 156,375.1 166.1,375.2 260.2,375.3" stroke="#8a2be2" stroke-width="1.1" fill="none"/>
<path d="M25,375.3 130.8,375.3 148.5,375.1 154.4,374.9 160.2,374.5 183.8,372 189.6,371.5 193.8,371.4 197.2,371.5 200.6,371.8 203.9,372.2 215.7,374.2 219.9,374.6 224.1,374.9 229.1,375.1 235,375.2 260.2,375.3" stroke="#a0282a" stroke-width="1.1" fill="none"/>
<path d="M25,367L260.2,369.9" stroke="#8a8aff" stroke-width="0.9"/>
<polyline points="25,365.8 26,365.4 27,365.8 28,365.5 29,365.7 30,365.7 31,365.5 32.1,365.5 33.1,365.7 34.1,365.8 35.1,365.7 36.1,365.5 37.1,365.3 38.1,365.1 39.1,365.6 40.1,365.4 41.1,365.4 42.1,365 43.1,365.1 44.2,365.3 45.2,365.1 46.2,364.9 47.2,364.6 48.2,364.5 49.2,364.7 50.2,364.3 51.2,364.3 52.2,364.1 53.2,364.1 54.2,363.9 55.2,363.3 56.2,362.8 57.3,362.7 58.3,362.5 59.3,362.3 60.3,362.1 61.3,361.7 62.3,360.6 63.3,360.7 64.3,360 65.3,359.4 66.3,358.5 67.3,357.4 68.3,356.9 69.4,355.9 70.4,354.7 71.4,353.7 72.4,352.1 73.4,350.5 74.4,349.4 75.4,348.1 76.4,346 77.4,344.7 78.4,343.1 79.4,340.9 80.4,339.4 81.4,337.6 82.5,335.6 83.5,333.6 84.5,331.8 85.5,330.4 86.5,328.6 87.5,326.7 88.5,324.7 89.5,323.6 90.5,321.9 91.5,320 92.5,318.6 93.5,317.2 94.6,315.6 95.6,313.6 96.6,311.9 97.6,310.1 98.6,307.9 99.6,305.9 100.6,303.7 101.6,301.9 102.6,299.3 103.6,297.2 104.6,294.7 105.6,292.6 106.6,290.2 107.7,288.3 108.7,287.4 109.7,285.8 110.7,285 111.7,285.1 112.7,285.5 113.7,285.8 114.7,287.3 115.7,288.6 116.7,290.5 117.7,292 118.7,293.9 119.8,296.4 120.8,298 121.8,299.3 122.8,300.7 123.8,301.5 124.8,302.6 125.8,302.8 126.8,303.4 127.8,303.3 128.8,303.1 129.8,302.8 130.8,301.7 131.8,300.9 132.9,300.4 133.9,299.7 134.9,298.9 135.9,298.3 136.9,298.1 137.9,297.9 138.9,297.4 139.9,297.5 140.9,297.5 141.9,296.9 142.9,297.4 143.9,297.3 145,297.2 146,297.9 147,297.3 148,297.4 149,297.2 150,297.2 151,296.6 152,296 153,295.7 154,295.3 155,295.8 156,296.1 157,296.1 158.1,296.8 159.1,298.1 160.1,299.7 161.1,301.8 162.1,303.7 163.1,305.6 164.1,306.9 165.1,309.1 166.1,310.4 167.1,311.3 168.1,312 169.1,311.3 170.2,310.9 171.2,310.4 172.2,309.5 173.2,308.1 174.2,306.8 175.2,306.2 176.2,306 177.2,305.7 178.2,306.8 179.2,308.4 180.2,310.7 181.2,313.9 182.2,317.1 183.3,320.9 184.3,324.9 185.3,329.3 186.3,332.9 187.3,337.2 188.3,340.4 189.3,343.5 190.3,347 191.3,349.1 192.3,351.7 193.3,353.5 194.3,355.1 195.4,355.8 196.4,357.1 197.4,357.8 198.4,359.1 199.4,359.7 200.4,360.1 201.4,360.5 202.4,360.8 203.4,361.6 204.4,361.8 205.4,362.2 206.4,362.3 207.4,362.7 208.5,362.9 209.5,363.7 210.5,363.9 211.5,363.9 212.5,364.7 213.5,364.6 214.5,364.9 215.5,365 216.5,365.3 217.5,366 218.5,365.8 219.5,365.9 220.6,366.3 221.6,366.4 222.6,367 223.6,366.6 224.6,367.3 225.6,366.8 226.6,367.5 227.6,367.5 228.6,367.2 229.6,367.5 230.6,367.5 231.6,367.5 232.6,367.6 233.7,367.8 234.7,368.3 235.7,368.3 236.7,368.3 237.7,367.8 238.7,368 239.7,368.4 240.7,367.9 241.7,368.4 242.7,368.1 243.7,368.6 244.7,368 245.8,368.6 246.8,368.3 247.8,368.1 248.8,368.1 249.8,368.7 250.8,368.5 251.8,368.3 252.8,368.5 253.8,368.8 254.8,368.3 255.8,368.6 256.8,368.3 257.8,368.4 258.9,368.8 259.9,368.8" fill="none" stroke="none" marker-start="url(#dc)" marker-mid="url(#dc)" marker-end="url(#dc)"/>
<path d="M25,365.6 34.2,365.5 41.8,365.2 48.5,364.6 53.6,363.8 57.8,362.7 60.3,361.9 62,361.1 63.6,360.2 65.3,359.2 67.8,357.2 70.4,354.6 72,352.6 74.6,349.1 77.1,345.1 87.2,327.3 94.7,315 97.2,310.7 98.9,307.5 100.6,304 105.6,292.6 107.3,289.2 108.2,287.8 109,286.7 109.8,285.8 110.7,285.2 111.5,285 112.4,285.2 113.2,285.7 114,286.4 114.9,287.5 116.6,290.2 119.9,296.4 121.6,299.1 123.3,301.2 124.1,301.9 125,302.5 125.8,302.9 126.6,303.1 127.5,303.1 128.3,303 129.2,302.7 130.8,301.9 135.9,298.6 137.6,297.8 138.4,297.5 139.2,297.3 140.9,297.2 146,297.5 147.6,297.4 149.3,297.1 153.5,295.6 154.4,295.5 155.2,295.5 156,295.7 156.9,296.1 157.7,296.8 158.6,297.6 160.2,300 163.6,306.3 165.3,309.2 166.1,310.2 167,311 167.8,311.5 168.6,311.7 169.5,311.5 170.3,311 171.2,310.3 173.7,307.4 174.5,306.6 175.4,306 176.2,305.8 177,305.9 177.9,306.6 178.7,307.7 179.6,309.3 180.4,311.4 181.2,313.9 182.9,319.8 186.3,333.2 188,339.5 189.6,344.9 191.3,349.3 193,352.7 194.7,355.3 195.5,356.3 197.2,357.9 198,358.6 199.7,359.6 201.4,360.5 203.9,361.6 207.3,362.8 210.6,363.9 216.5,365.5 219.9,366.2 223.2,366.8 229.1,367.5 236.7,368 245.9,368.3 260.2,368.6" stroke="#f01e1e" stroke-width="1.05" fill="none"/>
<text x="109.8" y="331.6" fill="#ff00ff" font-size="10.6" text-anchor="middle" stroke="#ff00ff" stroke-width="0.3">B</text>
<text x="140.4" y="346.5" fill="#2f9e3a" font-size="10.6" text-anchor="middle" stroke="#2f9e3a" stroke-width="0.3">B<tspan dx="1.4">'</tspan></text>
<text x="157.2" y="343" fill="#23239a" font-size="10.6" text-anchor="middle" stroke="#23239a" stroke-width="0.3">T</text>
<text x="177.8" y="333.4" fill="#9a9a22" font-size="10.6" text-anchor="middle" stroke="#9a9a22" stroke-width="0.3">S</text>
<text x="95.1" y="368.2" fill="#8b0d8b" font-size="10.6" text-anchor="middle" stroke="#8b0d8b" stroke-width="0.3">Z</text>
<text x="125" y="369.3" fill="#8a2be2" font-size="10.6" text-anchor="middle" stroke="#8a2be2" stroke-width="0.3">D</text>
<text x="193.8" y="370.5" fill="#a0282a" font-size="10.6" text-anchor="middle" stroke="#a0282a" stroke-width="0.3">C</text>
<path d="M284.3,373.3 286,373.2 287.7,373.2 289.4,373.8 291,373.7 292.7,373.4 294.4,373.3 296.1,373.8 299.5,374.1 301.2,373.8 302.8,373.3 304.5,373.2 306.2,374 307.9,373.6 309.6,374 311.3,373.2 312.9,374.1 314.6,373.5 316.3,374.1 318,374.1 319.7,373.7 321.4,373.1 323.1,374.2 324.7,373.7 326.4,374.1 328.1,373.4 329.8,373.3 331.5,374.1 333.2,373.5 334.9,373.3 338.2,373.8 339.9,373.1 341.6,373.7 343.3,373.6 345,373.7 346.6,373.2 348.3,374 351.7,374.1 353.4,373.5 355.1,374 356.8,373.6 358.4,374 360.1,373.2 361.8,374.1 363.5,374.2 365.2,373.7 370.2,373.7 371.9,373.1 373.6,374.3 375.3,373.4 378.7,373.2 380.3,373.4 382,374.1 383.7,373.1 385.4,373.2 387.1,373.9 388.8,373.3 390.5,373.1 392.1,373.8 395.5,373.7 397.2,373.9 398.9,373.2 400.6,374.1 402.2,374 403.9,373.2 405.6,373.2 407.3,373.7 409,373.7 412.4,373.2 414,373.6 415.7,373.3 417.4,373.8 419.1,374.1 420.8,373.3 422.5,373.8 424.2,374 425.8,373.3 427.5,374.1 429.2,374.2 430.9,373.6 432.6,373.6 434.3,374.1 436,373.7 437.6,373.6 439.3,374.2 441,374 442.7,373.5 444.4,373.4 447.7,373.6 449.4,374.3 451.1,374.1 452.8,374.2 454.5,374.1 456.2,374.1 457.9,373.2 461.2,374.2 462.9,374.2 464.6,373.4 468,373.9 469.7,373.5 471.3,373.7 473,373.2 474.7,373.6 476.4,373.7 478.1,373.1 479.8,373.3 481.4,374.3 483.1,374 484.8,374.2 486.5,373.9 488.2,374.1 491.6,374.2 493.2,373.1 494.9,373.9 496.6,373.4 498.3,373.9 500,373.4 501.7,373.8 503.4,374.2 506.7,373.4 508.4,373.7 510.1,373.6 511.8,374.2 513.5,373.4 515.1,373.5 516.8,373.9 518.5,373.2 520.2,373.8" stroke="#c8c8c8" stroke-width="0.9" fill="none"/>
<path d="M284.3,362.3H520.2" stroke="#c060c0" stroke-width="0.85"/>
<path d="M284.3,362.3 349.2,362.1 378.7,361.9 384.6,361.7 387.9,361.3 390.5,360.7 393,359.8 394.7,358.7 395.5,358.1 397.2,356.5 398.9,354.4 400.6,351.8 402.2,348.7 403.9,345.1 409.8,331.1 412.4,325.9 413.2,324.4 414.9,321.9 416.6,319.9 419.9,316.5 421.6,314.5 422.5,313.2 423.3,311.8 425,308.5 426.7,304.6 429.2,298.2 430.9,294.3 431.7,292.8 432.6,291.5 433.4,290.6 434.3,290.1 435.1,290.2 436,290.8 436.8,291.8 437.6,293.5 438.5,295.6 439.3,298.1 440.2,301 441.8,307.8 446.1,326.9 447.7,334.1 449.4,340.5 451.1,345.9 452.8,350.3 454.5,353.7 456.2,356.2 457.9,358.1 459.5,359.4 460.4,359.8 462.1,360.5 464.6,361.2 468.8,361.6 474.7,361.8 484.8,362 520.2,362.2" stroke="#9a9a22" stroke-width="1.1" fill="none"/>
<path d="M284.3,362.3 363.5,362.1 371.1,361.9 373.6,361.7 376.1,361.2 377.8,360.8 379.5,360.1 381.2,359.3 382.9,358.3 384.6,357 386.2,355.5 392.1,349.9 394.7,348 395.5,347.5 397.2,346.7 402.2,345.1 403.9,344.4 404.8,343.9 405.6,343.4 407.3,342 409,340.2 411.5,337.5 413.2,335.8 414,335.1 414.9,334.6 415.7,334.3 416.6,334.2 417.4,334.3 418.3,334.6 419.1,335.2 419.9,336 420.8,337 421.6,338.2 423.3,340.9 427.5,348.7 429.2,351.6 430.9,354.2 432.6,356.3 434.3,358 436,359.3 437.6,360.2 440.2,361.1 441.8,361.5 444.4,361.8 447.7,362 452,362.1 473.9,362.2 520.2,362.3" stroke="#23239a" stroke-width="1.1" fill="none"/>
<path d="M284.3,362.2 308.7,362.2 318,362.1 323.9,361.7 326.4,361.4 329,360.9 332.3,359.8 335.7,358.2 339.1,356.2 345,352.1 347.5,350.5 350,349.1 357.6,345.4 364.3,341.4 366,340.6 366.9,340.3 368.6,340 369.4,340 371.1,340.4 371.9,340.7 373.6,341.8 375.3,343.3 377.8,346.1 383.7,353.3 386.2,355.9 387.9,357.3 390.5,359 393,360.2 395.5,361 398,361.5 400.6,361.8 403.9,362 414,362.2 520.2,362.3" stroke="#ff00ff" stroke-width="1.1" fill="none"/>
<path d="M284.3,362.3 350,362.2 356.8,362.1 361,361.8 364.3,361.2 366,360.8 367.7,360.2 370.2,359.1 376.1,356 378.7,355 381.2,354.5 387.1,354.2 388.8,353.8 389.6,353.6 390.5,353.2 392.1,352.3 397.2,348.9 398.9,348.2 399.7,348 400.6,347.9 401.4,348 402.2,348.2 403.1,348.6 404.8,349.7 406.5,351.2 411.5,356.4 413.2,357.9 414.9,359.1 416.6,360.1 418.3,360.8 419.9,361.3 422.5,361.8 426.7,362.1 435.1,362.2 520.2,362.3" stroke="#2f9e3a" stroke-width="1.1" fill="none"/>
<path d="M284.3,362.3 328.1,362.2 335.7,362 341.6,361.6 346.6,360.9 351.7,359.9 355.9,358.9 367.7,355.6 375.3,353.8 379.5,353.1 382,352.8 383.7,352.8 385.4,352.9 387.1,353.1 388.8,353.4 391.3,354.1 394.7,355.4 402.2,358.5 404.8,359.4 407.3,360.2 409.8,360.8 412.4,361.2 414.9,361.6 418.3,361.9 424.2,362.1 434.3,362.2 520.2,362.3" stroke="#8a2be2" stroke-width="1.1" fill="none"/>
<path d="M284.3,362.3 395.5,362.3 406.5,362.2 412.4,362.1 417.4,361.7 422.5,361.1 425.8,360.5 433.4,358.9 437.6,358.1 452,355.7 454.5,355.4 456.2,355.3 458.7,355.4 460.4,355.7 462.1,356.1 464.6,356.8 470.5,359 473.9,360.1 477.2,361 481.4,361.7 485.7,362 491.6,362.2 520.2,362.3" stroke="#a0282a" stroke-width="1.1" fill="none"/>
<path d="M284.3,352.7L520.2,355.8" stroke="#8a8aff" stroke-width="0.9"/>
<polyline points="284.3,351.8 285.3,351.5 286.3,351.3 287.3,351.5 288.3,351.5 289.4,351.3 290.4,351.3 291.4,351.3 292.4,351.4 293.4,351.5 294.4,351.4 295.4,351.4 296.4,351.2 297.4,351.6 298.5,351.8 299.5,351.6 300.5,351.5 301.5,351.6 302.5,351.2 303.5,351.6 304.5,351.4 305.5,351.4 306.5,351.4 307.6,351.2 308.6,351.1 309.6,350.9 310.6,350.8 311.6,351 312.6,350.8 313.6,350.8 314.6,350.2 315.6,350.3 316.7,350.5 317.7,349.9 318.7,349.9 319.7,349.6 320.7,349.2 321.7,349.4 322.7,348.7 323.7,348.7 324.7,347.9 325.8,347.4 326.8,347.6 327.8,346.8 328.8,346.1 329.8,345.8 330.8,345.3 331.8,344.9 332.8,343.9 333.8,343.4 334.9,343.2 335.9,342.4 336.9,341.2 337.9,340.6 338.9,339.9 339.9,339.3 340.9,338.5 341.9,337.8 342.9,337 343.9,336 345,335.3 346,334.5 347,333.7 348,332.8 349,332.2 350,331.5 351,330.9 352,329.7 353,329.6 354.1,328.4 355.1,328.4 356.1,327.7 357.1,327.1 358.1,326.8 359.1,325.9 360.1,325.2 361.1,324.8 362.1,324.2 363.2,323.3 364.2,322.5 365.2,321.8 366.2,321.1 367.2,320.7 368.2,319.9 369.2,319.6 370.2,319.4 371.2,319.3 372.3,319.4 373.3,320 374.3,320.5 375.3,320.9 376.3,321.5 377.3,322 378.3,322.8 379.3,323.3 380.3,324.1 381.4,324.5 382.4,324.4 383.4,325.1 384.4,324.6 385.4,324.7 386.4,324.4 387.4,324 388.4,322.9 389.4,322.3 390.5,322 391.5,320.6 392.5,319.8 393.5,319.3 394.5,318.4 395.5,317.8 396.5,316.7 397.5,315.5 398.5,314.6 399.6,312.9 400.6,311.4 401.6,309.7 402.6,307.6 403.6,305.3 404.6,303.1 405.6,300.3 406.6,298 407.6,295 408.7,292.1 409.7,289 410.7,286.5 411.7,284.1 412.7,282 413.7,280.1 414.7,278.9 415.7,277.8 416.7,276.7 417.8,276.3 418.8,276.3 419.8,276.7 420.8,276.5 421.8,276.9 422.8,277.4 423.8,277.1 424.8,277.2 425.8,277.4 426.9,276.9 427.9,276 428.9,274.9 429.9,274.5 430.9,273.5 431.9,272.7 432.9,272.2 433.9,271.8 434.9,271.6 436,272.1 437,273.4 438,275.5 439,277.9 440,280.8 441,284.3 442,288.6 443,292.8 444,297 445,302 446.1,306.2 447.1,310.2 448.1,314.6 449.1,318.8 450.1,322.1 451.1,325.6 452.1,328.1 453.1,331 454.1,333.7 455.2,335.5 456.2,337.3 457.2,338.5 458.2,340 459.2,341.2 460.2,342 461.2,343.2 462.2,343.9 463.2,345 464.3,345.4 465.3,345.9 466.3,346.3 467.3,346.9 468.3,347.9 469.3,347.9 470.3,348.4 471.3,348.9 472.3,349.6 473.4,350.3 474.4,350.5 475.4,351 476.4,350.9 477.4,351.1 478.4,352 479.4,351.9 480.4,352.4 481.4,352.4 482.5,352.5 483.5,352.7 484.5,352.8 485.5,353.5 486.5,353.4 487.5,353.3 488.5,353.5 489.5,353.5 490.5,353.4 491.6,354 492.6,353.9 493.6,354.2 494.6,353.9 495.6,354 496.6,353.8 497.6,353.7 498.6,354.4 499.6,354.3 500.7,354 501.7,354.4 502.7,354.4 503.7,354.1 504.7,354.3 505.7,354.6 506.7,354.3 507.7,354.6 508.7,354.1 509.8,354.3 510.8,354.5 511.8,354.2 512.8,354.3 513.8,354.7 514.8,354.4 515.8,354.7 516.8,354.3 517.8,354.3 518.9,354.4 519.9,354.3" fill="none" stroke="none" marker-start="url(#dc)" marker-mid="url(#dc)" marker-end="url(#dc)"/>
<path d="M284.3,351.5 300.3,351.5 306.2,351.3 310.4,351.1 314.6,350.6 318,350 321.4,349.2 324.7,348.1 327.3,347.1 329.8,345.9 334,343.4 338.2,340.5 346.6,333.8 350.9,330.7 353.4,329.2 360.1,325.3 366.9,320.7 368.6,319.9 369.4,319.6 370.2,319.4 371.1,319.4 371.9,319.4 373.6,320 375.3,320.9 379.5,323.6 381.2,324.4 382,324.6 382.9,324.8 384.6,324.7 385.4,324.5 387.1,323.8 388.8,322.9 390.5,321.7 393,319.7 395.5,317.5 398,314.9 399.7,312.7 400.6,311.4 402.2,308.3 404.8,302.6 409.8,288.8 411.5,284.5 413.2,281 414,279.6 414.9,278.4 415.7,277.5 416.6,276.8 417.4,276.4 418.3,276.2 419.1,276.2 419.9,276.4 423.3,277.2 424.2,277.3 425,277.3 425.8,277.1 426.7,276.7 428.4,275.6 430.9,273.3 432.6,272 433.4,271.7 434.3,271.5 435.1,271.8 436,272.3 436.8,273.3 437.6,274.8 438.5,276.6 439.3,278.9 440.2,281.5 441,284.5 442.7,291.3 446.9,309.8 448.6,316.7 450.3,322.8 452,328 453.6,332.3 454.5,334.1 456.2,337.2 457.9,339.6 458.7,340.6 460.4,342.4 462.1,343.8 464.6,345.6 467.1,347 470.5,348.8 473,349.9 475.5,350.9 478.1,351.7 481.4,352.5 486.5,353.3 493.2,353.9 502.5,354.2 520.2,354.5" stroke="#f01e1e" stroke-width="1.05" fill="none"/>
<text x="434.7" y="307.6" fill="#9a9a22" font-size="10.6" text-anchor="middle" stroke="#9a9a22" stroke-width="0.3">S</text>
<text x="416.8" y="347.2" fill="#23239a" font-size="10.6" text-anchor="middle" stroke="#23239a" stroke-width="0.3">T</text>
<text x="369.1" y="352.2" fill="#ff00ff" font-size="10.6" text-anchor="middle" stroke="#ff00ff" stroke-width="0.3">B</text>
<text x="385" y="358.4" fill="#8a2be2" font-size="10.6" text-anchor="middle" stroke="#8a2be2" stroke-width="0.3">D</text>
<text x="400.1" y="359.6" fill="#2f9e3a" font-size="10.6" text-anchor="middle" stroke="#2f9e3a" stroke-width="0.3">B<tspan dx="1.4">'</tspan></text>
<text x="458.5" y="355.9" fill="#a0282a" font-size="10.6" text-anchor="middle" stroke="#a0282a" stroke-width="0.3">C</text>
<path d="M25,514.3 26.7,513.4 28.4,513.8 30,513.2 31.7,513.7 33.4,513.6 35.1,513.6 36.8,513.2 38.4,513.2 40.1,514.1 41.8,513.5 45.2,513.3 46.8,513.4 48.5,513.4 50.2,513.1 51.9,513.9 53.6,513.5 55.2,513.3 56.9,513.9 58.6,513.2 60.3,513.4 62,514.1 63.6,513.3 67,514.1 68.7,514.1 70.4,513.3 72,513.5 73.7,514 75.4,513.6 77.1,514.3 78.8,513.3 80.4,514.2 82.1,513.7 83.8,513.4 85.5,513.6 87.2,513.3 88.8,513.9 90.5,513.4 92.2,514.2 95.6,513.5 97.2,513.4 98.9,513.8 100.6,513.4 102.3,514.1 104,513.2 105.6,513.7 107.3,513.8 109,513.4 110.7,514 112.4,513.6 114,513.9 115.7,513.8 117.4,513.5 119.1,513.6 120.8,513.2 122.4,513.3 124.1,514.1 125.8,513.5 127.5,513.9 129.2,513.2 130.8,513.8 132.5,513.5 134.2,513.7 137.6,513.2 139.2,513.5 142.6,513.3 144.3,514 146,513.4 147.6,513.6 149.3,514.2 151,514 152.7,514.2 154.4,514.1 156,513.3 157.7,513.4 159.4,513.1 161.1,513.9 162.8,513.9 164.4,513.5 166.1,513.6 167.8,513.9 169.5,513.9 171.2,513.4 172.8,514.1 174.5,513.5 176.2,513.9 177.9,513.3 179.6,513.2 181.2,514.2 182.9,514 184.6,514 186.3,513.1 188,513.1 194.7,513.6 196.4,513.1 199.7,513.9 201.4,513.3 203.1,514.1 204.8,513.8 206.4,514 208.1,513.4 211.5,513.9 214.8,513.1 216.5,514.1 218.2,514 219.9,513.4 221.6,513.2 223.2,514.1 224.9,513.8 226.6,513.2 228.3,513.4 230,513.2 231.6,514 233.3,513.4 235,514.2 236.7,514 238.4,513.2 240,513.9 241.7,513.6 243.4,514 245.1,514.1 246.8,513.4 248.4,513.2 250.1,514.2 251.8,513.6 253.5,514.2 255.2,513.9 258.5,514.1 260.2,513.9" stroke="#c8c8c8" stroke-width="0.9" fill="none"/>
<path d="M25,508.8H260.2" stroke="#c060c0" stroke-width="0.85"/>
<path d="M25,508.7 67,508.5 78.8,508.4 85.5,508.2 89.7,507.9 93,507.3 95.6,506.5 98.1,505.2 99.8,503.9 101.4,502.3 103.1,500.4 104.8,498 106.5,495.2 108.2,492 115.7,476 117.4,472.7 119.1,469.7 120.8,466.9 125,460.7 127.5,456.8 129.2,453.8 133.4,445.9 135,443 135.9,441.8 136.7,440.8 137.6,440.1 138.4,439.6 139.2,439.5 140.1,439.7 140.9,440.4 141.8,441.3 142.6,442.7 143.4,444.4 145.1,448.9 147.6,457.4 151.8,473.7 154.4,482.9 156.9,490.6 158.6,494.9 160.2,498.3 161.1,499.8 162.8,502.2 164.4,504 165.3,504.7 167,505.8 167.8,506.3 169.5,506.9 172,507.6 175.4,508 180.4,508.3 190.5,508.5 206.4,508.6 260.2,508.7" stroke="#2f9e3a" stroke-width="1.1" fill="none"/>
<path d="M25,508.8 76.2,508.7 99.8,508.4 104,508.3 107.3,508 109.8,507.6 112.4,506.8 114.9,505.6 116.6,504.4 118.2,503 119.9,501.1 121.6,499 123.3,496.5 129.2,486.7 130.8,484.1 132.5,481.8 135,478.9 140.1,474.3 142.6,471.5 145.1,468 149.3,461.2 151,458.9 151.8,458.1 152.7,457.4 153.5,457.1 154.4,457 155.2,457.3 156,457.9 156.9,458.8 157.7,460.1 158.6,461.7 159.4,463.5 160.2,465.6 161.9,470.4 166.1,483.5 167.8,488.4 169.5,492.8 171.2,496.6 172.8,499.7 173.7,501 175.4,503.2 177,504.8 177.9,505.4 179.6,506.4 182.1,507.4 184.6,507.9 188,508.2 192.2,508.4 214.8,508.6 260.2,508.7" stroke="#23239a" stroke-width="1.1" fill="none"/>
<path d="M25,508.8 91.4,508.7 121.6,508.5 127.5,508.4 130.8,508.1 133.4,507.7 135.9,507.1 137.6,506.3 139.2,505.3 140.9,504 142.6,502.2 144.3,500.1 146,497.5 151.8,487.3 154.4,483.4 156,481.4 157.7,479.9 159.4,478.8 162.8,476.9 164.4,475.5 165.3,474.6 166.1,473.5 167.8,470.9 169.5,467.8 172,462.9 173.7,459.9 174.5,458.8 175.4,457.9 176.2,457.4 177,457.2 177.9,457.4 178.7,458.1 179.6,459.1 180.4,460.6 181.2,462.4 182.1,464.5 183.8,469.5 188,483.7 189.6,489 191.3,493.7 193,497.6 194.7,500.7 196.4,503.1 198,504.9 199.7,506.1 201.4,506.9 203.9,507.7 206.4,508.1 209.8,508.3 225.8,508.6 260.2,508.7" stroke="#9a9a22" stroke-width="1.1" fill="none"/>
<path d="M25,508.8 53.6,508.6 60.3,508.4 66.2,508 71.2,507.4 76.2,506.5 81.3,505.4 92.2,502.8 98.1,501.7 103.1,501 107.3,500.8 109.8,500.9 111.5,501.1 115.7,501.9 119.1,502.8 128.3,505.7 131.7,506.6 134.2,507.1 136.7,507.5 140.1,508 146,508.4 152.7,508.7 163.6,508.7 260.2,508.8" stroke="#ff00ff" stroke-width="1.1" fill="none"/>
<path d="M25,508.8 72,508.7 79.6,508.5 85.5,508.2 90.5,507.5 94.7,506.7 98.9,505.6 109,502.9 119.1,500.5 123.3,499.7 126.6,499.4 128.3,499.4 130,499.6 131.7,500 133.4,500.4 136.7,501.7 145.1,505.4 149.3,506.8 151.8,507.4 154.4,507.9 159.4,508.4 165.3,508.6 174.5,508.7 260.2,508.8" stroke="#8a2be2" stroke-width="1.1" fill="none"/>
<path d="M25,508.8 135.9,508.8 154.4,508.6 161.1,508.4 167,508 172.8,507.5 190.5,505.6 196.4,505.1 200.6,505 203.9,505.1 208.1,505.4 211.5,505.8 222.4,507.5 226.6,508 230.8,508.4 235,508.6 240.9,508.7 260.2,508.8" stroke="#a0282a" stroke-width="1.1" fill="none"/>
<path d="M25,500.7L260.2,503.8" stroke="#8a8aff" stroke-width="0.9"/>
<polyline points="25,499.4 26,499.2 27,499.6 28,499.4 29,499.5 30,499.8 31,499.3 32.1,499.7 33.1,499.2 34.1,499.7 35.1,499.7 36.1,499.4 37.1,499.6 38.1,499.9 39.1,499.6 40.1,499.5 41.1,499.3 42.1,499.2 43.1,499.4 44.2,499.4 45.2,499.2 46.2,499.3 47.2,499.1 48.2,499.5 49.2,499.4 50.2,499 51.2,499 52.2,499.1 53.2,499 54.2,499.2 55.2,498.7 56.2,498.6 57.3,498.9 58.3,498.2 59.3,498.4 60.3,498 61.3,498.2 62.3,497.8 63.3,497.8 64.3,497.2 65.3,497.3 66.3,497 67.3,496.7 68.3,496.6 69.4,496.4 70.4,495.6 71.4,495.4 72.4,495.2 73.4,494.8 74.4,494.4 75.4,494.2 76.4,493.8 77.4,493.9 78.4,493.3 79.4,492.8 80.4,492.5 81.4,492.3 82.5,491.8 83.5,491.3 84.5,490.8 85.5,490.3 86.5,490.5 87.5,489.8 88.5,488.8 89.5,488.6 90.5,488.1 91.5,487.1 92.5,486 93.5,485.4 94.6,484.4 95.6,483.2 96.6,482.4 97.6,480.8 98.6,480.2 99.6,478.6 100.6,477.1 101.6,475.8 102.6,473.9 103.6,471.9 104.6,470.1 105.6,468.1 106.6,466.1 107.7,464.6 108.7,462.5 109.7,459.9 110.7,457.6 111.7,455.7 112.7,453.5 113.7,451.2 114.7,448.3 115.7,446.4 116.7,444 117.7,441.5 118.7,438.7 119.8,436.1 120.8,434 121.8,431.1 122.8,428.5 123.8,425.9 124.8,422.9 125.8,420.4 126.8,417 127.8,413.9 128.8,411.2 129.8,408.2 130.8,405.3 131.8,402.2 132.9,399.6 133.9,397 134.9,394.3 135.9,392.2 136.9,390.2 137.9,389 138.9,388.2 139.9,387.4 140.9,387.6 141.9,387.5 142.9,388.1 143.9,389.3 145,389.6 146,390.6 147,392.1 148,393.1 149,394.7 150,395.5 151,397.4 152,398.9 153,400.4 154,401.9 155,403.8 156,406.3 157,408.7 158.1,411.4 159.1,414.3 160.1,417.5 161.1,420.9 162.1,424.2 163.1,427.4 164.1,429.8 165.1,432.6 166.1,435 167.1,436.9 168.1,438.3 169.1,439.3 170.2,439.9 171.2,440.5 172.2,440.8 173.2,441.2 174.2,441.3 175.2,441.5 176.2,442 177.2,442.7 178.2,443.6 179.2,445.2 180.2,446.7 181.2,449.5 182.2,452.3 183.3,455.1 184.3,458.6 185.3,462.4 186.3,465.6 187.3,469.2 188.3,472.4 189.3,475.7 190.3,479.2 191.3,481.4 192.3,484.1 193.3,486.8 194.3,488.7 195.4,490.2 196.4,492.1 197.4,493.1 198.4,494.4 199.4,495.1 200.4,495.9 201.4,496.5 202.4,496.9 203.4,497 204.4,497.4 205.4,498.1 206.4,498.1 207.4,498 208.5,498.6 209.5,498.3 210.5,498.4 211.5,498.8 212.5,498.7 213.5,499 214.5,499.1 215.5,499 216.5,499.4 217.5,499.2 218.5,499.6 219.5,499.7 220.6,499.5 221.6,499.9 222.6,499.7 223.6,500.1 224.6,500.5 225.6,500.4 226.6,500.7 227.6,500.8 228.6,500.5 229.6,501.2 230.6,501.1 231.6,500.8 232.6,501.4 233.7,501.2 234.7,501.1 235.7,501.8 236.7,501.6 237.7,501.8 238.7,501.4 239.7,501.9 240.7,501.5 241.7,501.7 242.7,501.8 243.7,501.6 244.7,502.1 245.8,501.9 246.8,502 247.8,502.3 248.8,502.1 249.8,502.5 250.8,502.4 251.8,502.6 252.8,502.4 253.8,502.7 254.8,502.7 255.8,502.2 256.8,502.6 257.8,502.4 258.9,502.7 259.9,502.6" fill="none" stroke="none" marker-start="url(#dc)" marker-mid="url(#dc)" marker-end="url(#dc)"/>
<path d="M25,499.5 41,499.5 50.2,499.2 54.4,498.9 57.8,498.5 61.1,498 64.5,497.4 69.5,496.1 75.4,494.4 80.4,492.7 84.6,491 88,489.3 90.5,487.8 93,485.8 94.7,484.3 96.4,482.5 98.1,480.5 99.8,478.3 101.4,475.7 104.8,470 108.2,463.3 110.7,457.9 114,450.1 118.2,440.1 121.6,431.6 125,422.6 131.7,402.6 134.2,395.8 135.9,392.2 136.7,390.7 137.6,389.5 138.4,388.6 139.2,388 140.1,387.6 140.9,387.5 141.8,387.6 142.6,388 143.4,388.5 144.3,389.2 146,390.9 148.5,393.9 151,397.2 152.7,399.7 154.4,402.6 156,406.2 157.7,410.5 159.4,415.4 162.8,426.1 164.4,431 166.1,435 167,436.6 167.8,437.9 168.6,439 169.5,439.7 170.3,440.3 171.2,440.6 172,440.8 174.5,441 175.4,441.2 176.2,441.6 177,442.2 177.9,443.1 178.7,444.2 179.6,445.6 181.2,449.4 182.9,454.2 188.8,474.2 191.3,481.8 193,485.9 194.7,489.3 196.4,492 198,494 199.7,495.4 200.6,496 202.2,496.9 204.8,497.7 209,498.4 228.3,500.7 236.7,501.5 246.8,502.1 260.2,502.5" stroke="#f01e1e" stroke-width="1.05" fill="none"/>
<text x="139.3" y="454.9" fill="#2f9e3a" font-size="10.6" text-anchor="middle" stroke="#2f9e3a" stroke-width="0.3">B<tspan dx="1.4">'</tspan></text>
<text x="153.9" y="469" fill="#23239a" font-size="10.6" text-anchor="middle" stroke="#23239a" stroke-width="0.3">T</text>
<text x="177.6" y="469" fill="#9a9a22" font-size="10.6" text-anchor="middle" stroke="#9a9a22" stroke-width="0.3">S</text>
<text x="102.9" y="500.6" fill="#ff00ff" font-size="10.6" text-anchor="middle" stroke="#ff00ff" stroke-width="0.3">B</text>
<text x="126" y="507.3" fill="#8a2be2" font-size="10.6" text-anchor="middle" stroke="#8a2be2" stroke-width="0.3">D</text>
<text x="202.3" y="507.3" fill="#a0282a" font-size="10.6" text-anchor="middle" stroke="#a0282a" stroke-width="0.3">C</text>
<path d="M284.3,507.8 286,506.9 287.7,507.2 289.4,507.7 291,507.9 292.7,507.7 294.4,506.9 296.1,507.5 297.8,506.9 299.5,507.5 301.2,507.8 302.8,506.9 304.5,507.9 306.2,507.6 307.9,507.1 309.6,507 311.3,507.3 312.9,507.8 314.6,507.5 316.3,506.9 318,506.8 319.7,506.9 321.4,507.8 323.1,507 324.7,507.5 326.4,507.1 328.1,507.6 331.5,507 333.2,507.9 334.9,507.4 339.9,507.9 341.6,506.8 343.3,507.2 345,507 348.3,507.8 350,507.8 351.7,506.8 353.4,507 355.1,507.8 356.8,507.6 358.4,507.3 360.1,507.4 361.8,507 363.5,507.8 365.2,507.3 366.9,507.8 368.6,507.5 370.2,506.9 371.9,507.2 373.6,507.1 375.3,507.9 377,507.5 378.7,506.9 382,507.2 385.4,507.5 387.1,507.3 388.8,507.2 390.5,506.8 392.1,507.5 395.5,506.8 398.9,508 400.6,506.9 402.2,507 403.9,507.6 405.6,507.1 407.3,507.1 409,507.4 410.7,507.1 412.4,507.5 414,507.4 415.7,507.9 417.4,508 419.1,506.8 420.8,507.5 422.5,507.7 424.2,507.8 427.5,507.6 429.2,507.6 430.9,507.2 432.6,507.1 434.3,507.8 437.6,507.9 439.3,507.6 441,507.2 442.7,507.7 444.4,507.7 446.1,507.4 447.7,507.6 449.4,507.2 451.1,507.5 452.8,507.3 454.5,506.9 456.2,507.2 457.9,507.2 459.5,508 461.2,507.4 464.6,507.1 466.3,507.1 468,507.2 471.3,506.8 473,507.8 474.7,507.3 476.4,507.3 478.1,507.5 479.8,507.2 483.1,506.9 484.8,507.2 486.5,507.2 488.2,507.7 489.9,507.5 491.6,507.9 493.2,507.2 494.9,507.9 496.6,507.5 498.3,506.9 500,507 503.4,508 505,507.2 506.7,507.7 508.4,507.3 510.1,507.8 511.8,506.9 515.1,507.9 516.8,507.1 518.5,507.1 520.2,506.8" stroke="#c8c8c8" stroke-width="0.9" fill="none"/>
<path d="M284.3,497.8H520.2" stroke="#c060c0" stroke-width="0.85"/>
<path d="M284.3,497.8 349.2,497.6 378.7,497.4 384.6,497.1 387.9,496.7 390.5,496.2 393,495.2 394.7,494.2 395.5,493.6 397.2,492 398.9,490 400.6,487.5 402.2,484.6 403.9,481.2 410.7,465.9 413.2,461 414,459.6 415.7,457.1 420.8,451.1 422.5,448.7 423.3,447.4 424.2,445.9 425.8,442.5 430.1,433 431.7,429.8 432.6,428.6 433.4,427.7 434.3,427.1 435.1,427 436,427.4 436.8,428.2 437.6,429.5 438.5,431.2 439.3,433.4 440.2,436 441,438.9 442.7,445.4 446.9,463.6 448.6,470.3 450.3,476.4 452,481.5 453.6,485.7 455.3,489 457,491.6 457.9,492.5 459.5,494.1 461.2,495.2 462.1,495.6 463.8,496.2 466.3,496.7 470.5,497.1 476.4,497.3 486.5,497.5 520.2,497.7" stroke="#9a9a22" stroke-width="1.1" fill="none"/>
<path d="M284.3,497.8 334.9,497.7 359.3,497.5 363.5,497.4 366.9,497.2 369.4,496.9 371.9,496.3 374.4,495.4 376.1,494.5 377.8,493.3 379.5,491.9 381.2,490.2 382.9,488.2 388.8,480.5 391.3,477.6 393.8,475.4 395.5,474.3 398.9,472.4 401.4,470.5 402.2,469.7 403.9,467.9 408.1,462.3 409.8,460.2 410.7,459.4 411.5,458.7 412.4,458.2 413.2,458 414,458.1 414.9,458.4 415.7,459 416.6,459.9 417.4,461.1 418.3,462.5 419.1,464.1 420.8,467.8 425,478.3 426.7,482.2 429.2,487.3 430.9,490 432.6,492.1 434.3,493.7 436,495 436.8,495.4 438.5,496.1 440.2,496.6 442.7,497.1 446.1,497.3 450.3,497.5 473,497.7 520.2,497.8" stroke="#23239a" stroke-width="1.1" fill="none"/>
<path d="M284.3,497.8 343.3,497.6 350.9,497.4 353.4,497.2 355.9,496.9 358.4,496.3 360.1,495.8 363.5,494.5 366.9,492.7 373.6,488.4 377,486.5 386.2,482.4 392.1,479.1 393.8,478.2 395.5,477.6 397.2,477.3 398.9,477.4 399.7,477.7 401.4,478.5 403.1,479.7 405.6,482.2 412.4,489.9 414.9,492.2 416.6,493.5 418.3,494.6 420.8,495.8 422.5,496.4 425,496.9 427.5,497.2 430.1,497.4 438.5,497.6 520.2,497.8" stroke="#2f9e3a" stroke-width="1.1" fill="none"/>
<path d="M284.3,497.8 315.5,497.8 325.6,497.5 332.3,497.1 344.1,495.8 361,494.2 365.2,494 367.7,494.1 371.1,494.5 380.3,496.3 384.6,497 388.8,497.4 394.7,497.7 411.5,497.8 520.2,497.8" stroke="#ff00ff" stroke-width="1.1" fill="none"/>
<path d="M284.3,497.8 329,497.8 340.7,497.7 347.5,497.4 360.1,496.5 376.1,495.7 381.2,495.5 383.7,495.6 387.1,495.8 396.4,496.9 400.6,497.3 404.8,497.6 409.8,497.7 520.2,497.8" stroke="#8a2be2" stroke-width="1.1" fill="none"/>
<path d="M284.3,497.8 391.3,497.7 402.2,497.6 409.8,497.3 416.6,496.7 422.5,495.7 428.4,494.3 441,490.6 446.9,489 450.3,488.3 452.8,488 455.3,487.7 457,487.7 460.4,488 462.1,488.2 464.6,488.9 468,490 475.5,493.1 479.8,494.6 484,495.8 488.2,496.7 493.2,497.2 499.1,497.6 506.7,497.7 520.2,497.7" stroke="#a0282a" stroke-width="1.1" fill="none"/>
<path d="M284.3,487.1L520.2,490" stroke="#8a8aff" stroke-width="0.9"/>
<polyline points="284.3,485.7 285.3,485.8 286.3,486.1 287.3,485.8 288.3,485.9 289.4,485.8 290.4,486.1 291.4,486.3 292.4,486.1 293.4,485.8 294.4,486.2 295.4,486.4 296.4,486.1 297.4,485.8 298.5,486.3 299.5,486.3 300.5,486 301.5,485.8 302.5,485.9 303.5,486.1 304.5,486.4 305.5,486.2 306.5,486.4 307.6,485.9 308.6,486 309.6,486.3 310.6,486.2 311.6,486.1 312.6,486.3 313.6,486 314.6,485.8 315.6,486 316.7,485.8 317.7,486.2 318.7,485.9 319.7,486 320.7,486 321.7,485.7 322.7,485.8 323.7,485.4 324.7,486 325.8,485.6 326.8,485.8 327.8,485 328.8,485.3 329.8,485.2 330.8,484.8 331.8,484.4 332.8,484.2 333.8,484 334.9,484.2 335.9,483.5 336.9,483.7 337.9,483.1 338.9,482.9 339.9,482.6 340.9,482.3 341.9,482 342.9,481.6 343.9,481.1 345,481 346,480.3 347,480.3 348,480 349,479.6 350,479 351,479 352,478.8 353,478.1 354.1,477.6 355.1,477.5 356.1,477.4 357.1,476.6 358.1,476.1 359.1,476.1 360.1,475.9 361.1,475.6 362.1,475 363.2,475 364.2,474 365.2,473.9 366.2,473 367.2,472.4 368.2,471.9 369.2,471.2 370.2,470.9 371.2,470.3 372.3,469.3 373.3,469.1 374.3,468 375.3,467.1 376.3,466.3 377.3,465.9 378.3,465.2 379.3,463.7 380.3,462.7 381.4,462.2 382.4,460.8 383.4,460.2 384.4,458.5 385.4,457.2 386.4,455.5 387.4,454.2 388.4,452.2 389.4,450.3 390.5,448.8 391.5,446.4 392.5,444.9 393.5,442.5 394.5,441.1 395.5,439.2 396.5,437.8 397.5,435.7 398.5,434.4 399.6,432.8 400.6,431.6 401.6,429.9 402.6,427.9 403.6,425.7 404.6,423.6 405.6,421.4 406.6,419.1 407.6,416.5 408.7,414 409.7,412 410.7,409.7 411.7,407.5 412.7,406.4 413.7,404.8 414.7,404.5 415.7,404.1 416.7,404.9 417.8,405.7 418.8,406.2 419.8,407.7 420.8,408.9 421.8,409.6 422.8,410.5 423.8,411.3 424.8,411.9 425.8,411.5 426.9,411.6 427.9,411.1 428.9,410.3 429.9,409.7 430.9,409.2 431.9,408.2 432.9,408.3 433.9,408 434.9,408.7 436,409.6 437,410.5 438,412.8 439,415.3 440,417.5 441,420.5 442,423.9 443,428.2 444,431.2 445,435.7 446.1,438.9 447.1,443 448.1,446.2 449.1,449.6 450.1,453.1 451.1,455.6 452.1,458.5 453.1,461.4 454.1,463.4 455.2,465.6 456.2,467.4 457.2,468.4 458.2,470 459.2,471.8 460.2,473 461.2,473.7 462.2,475.1 463.2,476 464.3,477.1 465.3,477.8 466.3,478.7 467.3,480.2 468.3,480.5 469.3,481.7 470.3,481.9 471.3,482.8 472.3,483.2 473.4,484 474.4,484.3 475.4,485.2 476.4,485.2 477.4,486 478.4,486.2 479.4,486.2 480.4,486.7 481.4,487 482.5,487.5 483.5,487.3 484.5,487.3 485.5,488 486.5,488 487.5,488 488.5,487.8 489.5,487.8 490.5,487.9 491.6,487.8 492.6,487.8 493.6,488.2 494.6,488.2 495.6,488.3 496.6,488.2 497.6,488 498.6,488.5 499.6,488.5 500.7,488.4 501.7,488.5 502.7,488.6 503.7,488.8 504.7,488.8 505.7,488.7 506.7,488.5 507.7,488.4 508.7,488.5 509.8,488.9 510.8,488.5 511.8,488.6 512.8,488.6 513.8,488.4 514.8,489 515.8,488.4 516.8,488.8 517.8,489.1 518.9,488.6 519.9,488.9" fill="none" stroke="none" marker-start="url(#dc)" marker-mid="url(#dc)" marker-end="url(#dc)"/>
<path d="M284.3,485.9 306.2,486.1 316.3,486.1 323.9,485.8 327.3,485.4 329.8,485.1 334,484.2 338.2,483.1 359.3,476.1 361.8,475.2 364.3,474.1 366.9,472.9 369.4,471.5 371.9,469.8 374.4,467.9 377,466 379.5,463.8 381.2,462.2 382.9,460.4 385.4,457.1 387.1,454.6 388.8,451.7 393.8,442.2 395.5,439.3 401.4,429.9 403.1,426.9 404.8,423.5 409.8,411.4 411.5,407.9 412.4,406.6 413.2,405.5 414,404.8 414.9,404.4 415.7,404.3 416.6,404.6 417.4,405.1 418.3,405.9 421.6,409.6 422.5,410.3 423.3,411 424.2,411.4 425,411.7 425.8,411.7 426.7,411.5 427.5,411.2 428.4,410.7 430.9,409 431.7,408.5 432.6,408.1 433.4,408 434.3,408.2 435.1,408.6 436,409.4 436.8,410.5 437.6,411.9 438.5,413.7 440.2,418.2 442.7,426.6 446.9,442.3 448.6,448.2 451.1,455.9 452,458.2 453.6,462.2 454.5,464 456.2,467.1 457.9,469.8 459.5,472 461.2,474 463.8,476.7 465.4,478.3 468,480.4 470.5,482.3 472.2,483.3 475.5,485.1 478.9,486.4 480.6,486.8 483.1,487.3 487.3,487.8 493.2,488.2 520.2,488.8" stroke="#f01e1e" stroke-width="1.05" fill="none"/>
<text x="435.2" y="438.9" fill="#9a9a22" font-size="10.6" text-anchor="middle" stroke="#9a9a22" stroke-width="0.3">S</text>
<text x="412.8" y="470.2" fill="#23239a" font-size="10.6" text-anchor="middle" stroke="#23239a" stroke-width="0.3">T</text>
<text x="397.5" y="489.5" fill="#2f9e3a" font-size="10.6" text-anchor="middle" stroke="#2f9e3a" stroke-width="0.3">B<tspan dx="1.4">'</tspan></text>
<text x="458.5" y="488.7" fill="#a0282a" font-size="10.6" text-anchor="middle" stroke="#a0282a" stroke-width="0.3">C</text>
<text x="367.8" y="492.5" fill="#ff00ff" font-size="10.6" text-anchor="middle" stroke="#ff00ff" stroke-width="0.3">B</text>
<text x="381.7" y="507.9" fill="#8a2be2" font-size="10.6" text-anchor="middle" stroke="#8a2be2" stroke-width="0.3">D</text>
<path d="M25,641.4 30,641 31.7,641.9 33.4,641.8 35.1,642 36.8,641 38.4,641.7 40.1,641.3 41.8,641.7 43.5,641.6 45.2,641.3 46.8,642.1 48.5,640.9 50.2,641.8 51.9,641.9 53.6,641.5 55.2,641.6 56.9,642.1 58.6,641.2 60.3,641.7 62,641.8 63.6,641.4 65.3,641.8 67,641.4 72,641.7 73.7,641.3 75.4,641.7 77.1,641.6 78.8,641.2 80.4,641.6 82.1,641.2 83.8,642 85.5,641.5 87.2,641.8 88.8,641.5 90.5,641.5 92.2,641.2 93.9,641.1 95.6,642 97.2,641.5 100.6,641.5 102.3,641.9 104,641.2 105.6,641.1 107.3,641.9 109,641.5 112.4,641.9 115.7,641.9 117.4,641 119.1,641.4 120.8,641.9 122.4,641.9 124.1,641 127.5,641.2 129.2,641 130.8,641.3 132.5,641.9 134.2,641.5 135.9,641.4 137.6,641 139.2,641.4 140.9,642.1 144.3,641.4 146,641.5 147.6,641.9 149.3,641.8 151,641.1 152.7,641.7 154.4,641.3 156,641.5 157.7,641.2 159.4,641.3 162.8,641.4 164.4,640.9 166.1,641.1 167.8,641.6 169.5,641 171.2,641.1 172.8,641.8 174.5,641.2 176.2,641.3 177.9,641.2 179.6,641.9 181.2,641 182.9,641.7 184.6,641.9 186.3,641.1 188,641.4 189.6,641.9 193,641.3 194.7,641 196.4,641.4 198,641.3 199.7,641.8 201.4,641.3 203.1,641.4 206.4,641.9 208.1,641.3 209.8,641.4 211.5,641.6 213.2,642 214.8,641.1 216.5,642.1 219.9,641.3 221.6,641.7 224.9,641 226.6,641.8 228.3,641.4 230,641.5 231.6,641.5 233.3,642 235,641.8 236.7,640.9 238.4,641.6 240,641.5 241.7,641.5 243.4,641.9 245.1,641.4 246.8,641.5 248.4,642 250.1,641.4 253.5,641.5 255.2,641.9 256.8,641.7 258.5,641.8 260.2,641.4" stroke="#d8d8a8" stroke-width="0.9" fill="none"/>
<path d="M25,638.5H260.2" stroke="#c060c0" stroke-width="0.85"/>
<path d="M25,638.4 64.5,638.3 82.1,638.1 86.3,637.8 88.8,637.5 91.4,636.9 93.9,635.9 95.6,634.9 97.2,633.6 98.9,631.9 100.6,629.8 103.1,626 109.8,613.8 112.4,609.8 113.2,608.6 114.9,606.7 116.6,605.1 119.9,602.1 121.6,600.4 122.4,599.4 123.3,598.2 125,595.6 129.2,587.9 130.8,585.1 131.7,584 132.5,583.2 133.4,582.6 134.2,582.4 135,582.5 135.9,583.1 136.7,584 137.6,585.3 138.4,587 139.2,589 140.1,591.2 141.8,596.4 146,611 147.6,616.5 150.2,623.5 151.8,627.3 153.5,630.3 154.4,631.6 156,633.6 157.7,635 158.6,635.6 160.2,636.5 162.8,637.2 165.3,637.7 168.6,637.9 174.5,638.1 202.2,638.4 260.2,638.5" stroke="#2f9e3a" stroke-width="1.1" fill="none"/>
<path d="M25,638.4 73.7,638.4 96.4,638.1 100.6,638 104,637.7 106.5,637.2 109,636.3 110.7,635.5 112.4,634.3 114,632.8 115.7,630.9 117.4,628.7 119.1,626.1 125,615.8 126.6,613.1 128.3,610.7 129.2,609.7 130.8,608 135.9,603.9 137.6,602.2 138.4,601.2 140.1,598.8 141.8,596 145.1,589.9 146.8,587.3 147.6,586.3 148.5,585.6 149.3,585.2 150.2,585.1 151,585.4 151.8,586.1 152.7,587.2 153.5,588.6 154.4,590.4 155.2,592.4 156,594.8 157.7,600 162.8,616.6 165.3,623.6 167,627.3 168.6,630.4 170.3,632.7 172,634.4 172.8,635.1 174.5,636.1 175.4,636.5 177,637.1 179.6,637.6 182.9,637.9 187.1,638.1 210.6,638.3 260.2,638.4" stroke="#23239a" stroke-width="1.1" fill="none"/>
<path d="M25,638.5 88,638.4 116.6,638.3 125,638.1 127.5,637.8 130,637.4 132.5,636.7 134.2,636 135.9,635.1 137.6,634 140.1,631.9 146.8,625.1 149.3,623 151.8,621.4 156.9,619.3 159.4,618 160.2,617.3 161.9,615.9 166.1,611.4 167.8,609.7 168.6,609.1 169.5,608.6 170.3,608.2 171.2,608.1 172,608.2 172.8,608.5 173.7,609.1 174.5,609.9 176.2,612 178.7,616.4 183.8,626.1 185.4,628.9 187.1,631.3 188.8,633.2 190.5,634.7 192.2,635.8 193,636.3 194.7,637 196.4,637.4 198.9,637.9 201.4,638.1 205.6,638.2 223.2,638.4 260.2,638.5" stroke="#9a9a22" stroke-width="1.1" fill="none"/>
<path d="M25,638.5 70.4,638.3 77.1,638.1 79.6,637.8 82.1,637.4 85.5,636.7 88.8,635.5 92.2,633.9 98.1,630.8 100.6,629.6 104,628.2 110.7,625.7 117.4,622.6 119.9,621.8 121.6,621.5 122.4,621.5 124.1,621.7 125,622 126.6,622.8 128.3,623.9 130.8,626 135,629.9 137.6,632.2 140.1,634.1 141.8,635.1 143.4,635.9 146,636.9 148.5,637.5 151,637.9 153.5,638.1 156.9,638.3 166.1,638.4 260.2,638.5" stroke="#8a2be2" stroke-width="1.1" fill="none"/>
<path d="M25,638.5 56.9,638.3 62.8,638.1 67.8,637.7 72,637 75.4,636.2 78.8,635.2 88.8,632 101.4,628.5 104.8,627.8 106.5,627.6 108.2,627.5 109.8,627.6 111.5,627.9 113.2,628.4 114.9,629 117.4,630.2 125,634.3 127.5,635.5 129.2,636.1 131.7,636.9 134.2,637.4 136.7,637.8 139.2,638.1 145.1,638.3 155.2,638.4 260.2,638.5" stroke="#ff00ff" stroke-width="1.1" fill="none"/>
<path d="M25,638.5 130.8,638.5 141.8,638.4 148.5,638.2 154.4,637.9 160.2,637.2 165.3,636.4 177,634.2 184.6,632.9 189.6,632.2 193.8,632 197.2,632.2 200.6,632.7 203.9,633.5 211.5,635.7 214.8,636.5 219,637.4 223.2,637.9 228.3,638.2 234.2,638.4 260.2,638.5" stroke="#a0282a" stroke-width="1.1" fill="none"/>
<path d="M25,633.5L260.2,635.9" stroke="#8a8aff" stroke-width="0.9"/>
<polyline points="25,632 26,632.4 27,632.3 28,632.5 29,632.5 30,632 31,632.1 32.1,632 33.1,632.5 34.1,632 35.1,632 36.1,632.5 37.1,632.4 38.1,632 39.1,632.4 40.1,632.5 41.1,632.3 42.1,632 43.1,632.4 44.2,632.2 45.2,632.3 46.2,632.6 47.2,632.4 48.2,632.4 49.2,631.9 50.2,632 51.2,632.1 52.2,631.7 53.2,632.3 54.2,631.7 55.2,631.7 56.2,631.6 57.3,631.5 58.3,631.8 59.3,631.5 60.3,631.3 61.3,631.1 62.3,630.7 63.3,630.8 64.3,631 65.3,630.8 66.3,630.6 67.3,630 68.3,629.8 69.4,629.5 70.4,629.6 71.4,629.2 72.4,629 73.4,628.7 74.4,628.5 75.4,628 76.4,628 77.4,627.2 78.4,627.3 79.4,626.6 80.4,625.8 81.4,625.5 82.5,625.1 83.5,624.4 84.5,623.9 85.5,623.1 86.5,622.3 87.5,621.9 88.5,620.8 89.5,620.2 90.5,619.3 91.5,618.2 92.5,617.1 93.5,616.3 94.6,614.9 95.6,614 96.6,612.1 97.6,611 98.6,609.7 99.6,607.8 100.6,606.6 101.6,604.3 102.6,602.7 103.6,600.3 104.6,598.5 105.6,595.8 106.6,593.4 107.7,590.4 108.7,587.7 109.7,584.7 110.7,581.4 111.7,578.2 112.7,575.6 113.7,572 114.7,569.6 115.7,566.2 116.7,563.4 117.7,560.8 118.7,558.8 119.8,556.5 120.8,553.8 121.8,551.8 122.8,549.3 123.8,547.6 124.8,545.4 125.8,543.1 126.8,541.1 127.8,539.8 128.8,537.7 129.8,536.9 130.8,535.3 131.8,534.4 132.9,534 133.9,533.5 134.9,533.8 135.9,533.8 136.9,534.9 137.9,535.3 138.9,536.7 139.9,537.3 140.9,538.8 141.9,540 142.9,540.7 143.9,541.5 145,542.7 146,543.8 147,544.5 148,545.7 149,546.6 150,548.2 151,550.1 152,551.8 153,554.1 154,556.2 155,559.5 156,561.9 157,565.5 158.1,568.7 159.1,571.7 160.1,574.5 161.1,577.2 162.1,579.9 163.1,582.6 164.1,584.6 165.1,586.9 166.1,588 167.1,589.8 168.1,591.4 169.1,592.4 170.2,593.5 171.2,594.3 172.2,595.5 173.2,596.8 174.2,598.5 175.2,599.8 176.2,600.8 177.2,602.9 178.2,603.9 179.2,606 180.2,608.1 181.2,609.5 182.2,611.7 183.3,613.4 184.3,614.7 185.3,616.7 186.3,618.4 187.3,619.9 188.3,621.7 189.3,622.7 190.3,624.4 191.3,625.2 192.3,626.1 193.3,627.4 194.3,627.9 195.4,629 196.4,629.8 197.4,630.3 198.4,630.7 199.4,630.9 200.4,631.6 201.4,631.7 202.4,632.4 203.4,632.3 204.4,632.8 205.4,632.9 206.4,633 207.4,633.4 208.5,633.2 209.5,633.3 210.5,633.9 211.5,633.6 212.5,634 213.5,634.1 214.5,633.8 215.5,633.7 216.5,633.7 217.5,634.2 218.5,633.7 219.5,634 220.6,634.1 221.6,633.8 222.6,634.1 223.6,633.9 224.6,634.2 225.6,634.2 226.6,634.1 227.6,634 228.6,634.2 229.6,634.1 230.6,634 231.6,634.1 232.6,634.6 233.7,634.4 234.7,634.6 235.7,634 236.7,634.7 237.7,634.4 238.7,634.6 239.7,634.5 240.7,634.6 241.7,634.3 242.7,634.7 243.7,634.3 244.7,634.4 245.8,634.2 246.8,634.5 247.8,634.6 248.8,634.5 249.8,634.9 250.8,634.3 251.8,634.7 252.8,634.5 253.8,634.7 254.8,634.9 255.8,634.8 256.8,634.4 257.8,634.5 258.9,634.8 259.9,635.1" fill="none" stroke="none" marker-start="url(#dc)" marker-mid="url(#dc)" marker-end="url(#dc)"/>
<path d="M25,632.3 41,632.3 51,632.1 58.6,631.5 62.8,631 66.2,630.4 70.4,629.5 73.7,628.6 77.1,627.5 79.6,626.5 82.1,625.3 84.6,623.8 87.2,622 89.7,619.9 93,616.6 96.4,612.6 98.1,610.4 99.8,607.8 102.3,603.3 104,599.8 106.5,593.6 109,586.6 114,571.3 115.7,566.4 118.2,559.8 121.6,552 125.8,543.3 127.5,540.2 129.2,537.6 130.8,535.5 131.7,534.7 132.5,534.1 133.4,533.8 134.2,533.7 135,533.7 135.9,534 136.7,534.5 138.4,535.9 143.4,541.3 147.6,545.3 149.3,547.3 150.2,548.5 151.8,551.5 153.5,555.2 155.2,559.7 161.1,577.3 162.8,581.6 163.6,583.6 165.3,586.9 166.1,588.3 167.8,590.7 173.7,597.6 176.2,601 178.7,605.1 185.4,617.1 188,621 189.6,623.3 191.3,625.3 193,627 194.7,628.5 196.4,629.6 198,630.6 199.7,631.4 201.4,632 203.1,632.5 205.6,633 209.8,633.5 214.8,633.9 223.2,634.1 260.2,634.8" stroke="#f01e1e" stroke-width="1.05" fill="none"/>
<text x="134" y="596.8" fill="#2f9e3a" font-size="10.6" text-anchor="middle" stroke="#2f9e3a" stroke-width="0.3">B<tspan dx="1.4">'</tspan></text>
<text x="150.3" y="597.8" fill="#23239a" font-size="10.6" text-anchor="middle" stroke="#23239a" stroke-width="0.3">T</text>
<text x="171.3" y="619.1" fill="#9a9a22" font-size="10.6" text-anchor="middle" stroke="#9a9a22" stroke-width="0.3">S</text>
<text x="107.6" y="633.2" fill="#ff00ff" font-size="10.6" text-anchor="middle" stroke="#ff00ff" stroke-width="0.3">B</text>
<text x="122.5" y="633.2" fill="#8a2be2" font-size="10.6" text-anchor="middle" stroke="#8a2be2" stroke-width="0.3">D</text>
<text x="194.9" y="635" fill="#a0282a" font-size="10.6" text-anchor="middle" stroke="#a0282a" stroke-width="0.3">C</text>
<path d="M284.3,642.4 286,643.1 289.4,643.4 291,642.8 292.7,643.4 294.4,643 296.1,643.5 297.8,642.4 299.5,643.5 301.2,642.9 302.8,642.9 304.5,642.5 306.2,642.7 307.9,643.3 309.6,643.2 311.3,642.6 312.9,642.8 314.6,642.6 318,642.7 319.7,642.8 321.4,643.6 323.1,643.6 324.7,643.3 326.4,643 328.1,643 329.8,643.3 331.5,643.5 334.9,643.2 336.5,642.6 338.2,643.2 339.9,643.4 341.6,643.3 343.3,642.5 345,643.3 346.6,642.8 348.3,642.6 350,643.6 351.7,643.2 353.4,643.3 355.1,642.6 356.8,643.4 358.4,643.5 360.1,643.5 361.8,643.3 363.5,643.4 365.2,643.4 368.6,642.9 370.2,643.4 371.9,643.3 373.6,643.4 375.3,642.8 377,643.6 378.7,643 380.3,643.5 382,642.5 383.7,643.6 385.4,643.3 387.1,642.7 388.8,643.4 390.5,642.7 392.1,642.6 393.8,642.9 395.5,642.7 397.2,643 398.9,643.5 400.6,643.2 402.2,643.3 403.9,642.9 405.6,643.3 407.3,643.4 409,643.2 410.7,643.5 412.4,643.4 415.7,642.5 417.4,643.2 419.1,643.4 420.8,642.8 424.2,643.4 425.8,643.4 427.5,642.4 429.2,643 430.9,642.4 432.6,642.5 434.3,643.4 436,642.9 437.6,643.1 442.7,642.7 444.4,642.8 446.1,643.4 451.1,642.5 452.8,642.7 454.5,643.2 456.2,642.9 459.5,643.4 461.2,642.5 462.9,643.2 464.6,642.4 466.3,643.4 468,642.6 469.7,642.7 471.3,643.5 473,642.8 474.7,642.7 476.4,643.5 478.1,643.1 479.8,643.5 481.4,642.9 483.1,643 484.8,643.5 486.5,643 488.2,643.6 489.9,642.6 491.6,643.4 493.2,642.6 494.9,643 496.6,642.4 498.3,642.6 500,643.5 501.7,642.9 503.4,643.4 505,642.7 506.7,642.8 508.4,642.5 510.1,643.1 511.8,643.4 513.5,643 515.1,642.9 516.8,643.5 518.5,643.5 520.2,643.2" stroke="#c8c8c8" stroke-width="0.9" fill="none"/>
<path d="M284.3,636.5H520.2" stroke="#c060c0" stroke-width="0.85"/>
<path d="M284.3,636.4 332.3,636.3 346.6,636.2 354.2,636 358.4,635.8 361.8,635.3 364.3,634.7 366.9,633.6 368.6,632.5 369.4,631.8 371.1,630.2 372.8,628.1 374.4,625.6 377,621.1 378.7,617.6 383.7,606.6 385.4,603.3 387.1,600.3 389.6,596.5 393.8,591.3 396.4,587.7 398.9,583.3 403.1,574.6 404.8,571.6 405.6,570.4 406.5,569.4 407.3,568.8 408.1,568.5 409,568.6 409.8,569.2 410.7,570.1 411.5,571.5 412.4,573.3 413.2,575.5 414,578 415.7,583.9 420.8,604.1 422.5,610.4 424.2,616 425.8,620.8 427.5,624.8 428.4,626.5 430.1,629.2 431.7,631.3 432.6,632.1 434.3,633.4 435.1,633.9 436.8,634.6 439.3,635.3 442.7,635.7 446.9,636 455.3,636.1 470.5,636.3 520.2,636.4" stroke="#23239a" stroke-width="1.1" fill="none"/>
<path d="M284.3,636.5 345.8,636.3 374.4,636.1 379.5,635.9 382.9,635.5 385.4,634.9 387.9,634 389.6,633 390.5,632.4 392.1,630.8 393.8,628.9 395.5,626.4 397.2,623.4 398.9,620.1 404.8,606.8 406.5,603.3 408.1,600.3 409,598.9 410.7,596.6 415.7,591 417.4,588.7 418.3,587.4 419.1,585.9 420.8,582.6 425,573 426.7,569.8 427.5,568.6 428.4,567.7 429.2,567.3 430.1,567.2 430.9,567.7 431.7,568.6 432.6,570 433.4,571.8 434.3,574.1 435.1,576.7 436,579.7 437.6,586.3 442.7,607.7 444.4,613.9 446.1,619.3 447.7,623.7 449.4,627.2 451.1,629.9 452,630.9 453.6,632.6 455.3,633.7 456.2,634.2 457.9,634.8 460.4,635.4 464.6,635.8 470.5,636 482.3,636.2 520.2,636.4" stroke="#9a9a22" stroke-width="1.1" fill="none"/>
<path d="M284.3,636.5 339.1,636.3 345.8,636 348.3,635.8 350.9,635.3 352.5,634.9 354.2,634.3 355.9,633.6 357.6,632.7 359.3,631.7 361,630.5 366.9,625.8 370.2,623.4 372.8,622 377.8,619.7 380.3,618.4 382.9,616.7 387.1,613.5 388.8,612.4 390.5,611.7 391.3,611.5 392.1,611.5 393,611.6 393.8,611.9 394.7,612.4 395.5,613 397.2,614.7 399.7,617.9 405.6,626.6 408.1,629.7 409.8,631.3 411.5,632.7 414,634.2 415.7,634.8 418.3,635.5 420.8,635.9 423.3,636.1 432.6,636.3 520.2,636.5" stroke="#2f9e3a" stroke-width="1.1" fill="none"/>
<path d="M284.3,636.5 310.4,636.4 318.8,636.2 325.6,635.9 331.5,635.5 337.4,635 359.3,632.5 365.2,632.1 370.2,632 375.3,632.1 380.3,632.5 385.4,633.1 397.2,634.7 403.9,635.4 410.7,635.9 417.4,636.2 425.8,636.4 437.6,636.5 520.2,636.5" stroke="#ff00ff" stroke-width="1.1" fill="none"/>
<path d="M284.3,636.5 323.1,636.4 331.5,636.3 337.4,636.1 343.3,635.8 349.2,635.2 365.2,633.2 371.1,632.5 376.1,632.1 380.3,632 383.7,632.1 387.9,632.5 392.1,633.2 401.4,634.8 406.5,635.5 411.5,636 417.4,636.3 424.2,636.4 434.3,636.5 520.2,636.5" stroke="#8a2be2" stroke-width="1.1" fill="none"/>
<path d="M284.3,636.5 387.9,636.4 398.9,636.4 405.6,636.2 411.5,635.8 417.4,635.1 423.3,634 435.1,631.5 441,630.3 446.9,629.5 451.1,629.2 454.5,629.3 456.2,629.5 458.7,630 462.1,630.8 469.7,633.2 473.9,634.3 478.1,635.2 482.3,635.8 487.3,636.2 493.2,636.4 520.2,636.5" stroke="#a0282a" stroke-width="1.1" fill="none"/>
<path d="M284.3,625.9L520.2,630.1" stroke="#8a8aff" stroke-width="0.9"/>
<polyline points="284.3,624.3 285.3,624.7 286.3,624.6 287.3,625 288.3,624.6 289.4,624.8 290.4,624.8 291.4,624.7 292.4,624.8 293.4,624.9 294.4,625.1 295.4,624.8 296.4,624.7 297.4,625.2 298.5,624.5 299.5,625.1 300.5,625 301.5,624.9 302.5,624.8 303.5,625.1 304.5,625.2 305.5,625.1 306.5,625.1 307.6,624.6 308.6,624.8 309.6,624.7 310.6,625.3 311.6,625.2 312.6,624.7 313.6,625 314.6,625 315.6,624.6 316.7,624.9 317.7,625.1 318.7,625 319.7,624.7 320.7,625 321.7,624.7 322.7,624.8 323.7,624.7 324.7,625 325.8,624.7 326.8,624.8 327.8,624.6 328.8,624.3 329.8,624.6 330.8,624.3 331.8,624.2 332.8,623.7 333.8,623.5 334.9,623.6 335.9,623.6 336.9,623.3 337.9,622.8 338.9,622.4 339.9,622.4 340.9,622.4 341.9,621.5 342.9,621.6 343.9,620.9 345,620.6 346,620 347,619.8 348,619.4 349,619.3 350,618.8 351,617.7 352,617.2 353,616.9 354.1,615.7 355.1,615.1 356.1,614.3 357.1,613.2 358.1,612.3 359.1,611.4 360.1,610.3 361.1,609.5 362.1,607.7 363.2,606.3 364.2,605.4 365.2,603.6 366.2,602.3 367.2,600.5 368.2,598.9 369.2,596.8 370.2,594.9 371.2,593.5 372.3,591.4 373.3,589.6 374.3,587.7 375.3,585.8 376.3,583.5 377.3,581.5 378.3,579.8 379.3,577.5 380.3,575.2 381.4,573.3 382.4,570.9 383.4,569.1 384.4,566.5 385.4,564.9 386.4,562.7 387.4,560.6 388.4,559.2 389.4,556.9 390.5,555.1 391.5,553.3 392.5,551.9 393.5,550.2 394.5,548.3 395.5,546.2 396.5,544.3 397.5,541.5 398.5,539.2 399.6,536.7 400.6,534 401.6,530.8 402.6,527.9 403.6,525 404.6,521.9 405.6,519.8 406.6,517.6 407.6,515.8 408.7,515 409.7,515.1 410.7,515.3 411.7,516.4 412.7,518.8 413.7,520.9 414.7,523.6 415.7,526.6 416.7,529.7 417.8,532 418.8,534.8 419.8,537 420.8,539.2 421.8,540.8 422.8,542.2 423.8,542.8 424.8,543.3 425.8,543.5 426.9,543.9 427.9,544.1 428.9,545 429.9,545.8 430.9,547.1 431.9,548.4 432.9,550.9 433.9,553.6 434.9,556.6 436,560.4 437,564.2 438,568.2 439,572.5 440,576.7 441,581.1 442,584.7 443,589.1 444,592.9 445,596.4 446.1,599.4 447.1,602.2 448.1,605.2 449.1,607.7 450.1,609.5 451.1,611.3 452.1,612.9 453.1,614.3 454.1,616 455.2,617.3 456.2,618.2 457.2,618.8 458.2,619.8 459.2,620.1 460.2,621.4 461.2,621.6 462.2,622 463.2,622.9 464.3,623.1 465.3,623.6 466.3,623.9 467.3,624.6 468.3,625 469.3,625.5 470.3,625.3 471.3,626.1 472.3,625.9 473.4,626.2 474.4,626.7 475.4,626.7 476.4,626.8 477.4,627.2 478.4,627 479.4,627.6 480.4,627.3 481.4,627.8 482.5,627.9 483.5,627.7 484.5,627.5 485.5,628 486.5,627.6 487.5,628 488.5,628 489.5,627.7 490.5,628.2 491.6,628.3 492.6,628.2 493.6,628.1 494.6,628.2 495.6,628.3 496.6,628.1 497.6,628.6 498.6,628.7 499.6,628.6 500.7,628.7 501.7,628.3 502.7,628.8 503.7,628.2 504.7,628.5 505.7,628.3 506.7,628.5 507.7,628.7 508.7,628.8 509.8,628.6 510.8,628.6 511.8,628.5 512.8,628.7 513.8,628.6 514.8,628.6 515.8,629 516.8,628.8 517.8,628.8 518.9,628.7 519.9,629" fill="none" stroke="none" marker-start="url(#dc)" marker-mid="url(#dc)" marker-end="url(#dc)"/>
<path d="M284.3,624.6 307,624.9 318,624.9 325.6,624.6 329,624.4 332.3,624 336.5,623.2 339.9,622.4 343.3,621.3 346.6,620 349.2,618.9 351.7,617.5 354.2,615.8 356.8,613.8 358.4,612.2 360.1,610.4 361.8,608.3 363.5,606.1 365.2,603.6 367.7,599.5 371.9,592.1 377,582.3 386.2,563 388.8,558.3 393.8,549.5 396.4,544.5 398,540.6 399.7,536.1 404.8,521.5 405.6,519.5 406.5,517.8 407.3,516.4 408.1,515.4 409,514.9 409.8,514.9 410.7,515.4 411.5,516.4 412.4,517.8 413.2,519.6 414,521.7 417.4,531.3 419.1,535.7 420.8,539.2 421.6,540.5 422.5,541.6 423.3,542.4 424.2,542.9 425,543.3 427.5,544.1 428.4,544.5 429.2,545 430.1,545.8 430.9,546.9 431.7,548.3 432.6,550 434.3,554.5 436,560.1 437.6,566.7 442.7,587.7 444.4,594 446.1,599.5 447.7,604.3 448.6,606.4 450.3,609.9 451.1,611.5 452.8,614.1 453.6,615.2 455.3,617.2 457,618.7 458.7,620.1 461.2,621.7 463.8,623.1 466.3,624.2 468.8,625.2 471.3,625.9 474.7,626.7 477.2,627.1 480.6,627.5 487.3,627.9 498.3,628.3 520.2,628.9" stroke="#f01e1e" stroke-width="1.05" fill="none"/>
<text x="408.4" y="581.1" fill="#23239a" font-size="10.6" text-anchor="middle" stroke="#23239a" stroke-width="0.3">T</text>
<text x="430.9" y="579.4" fill="#9a9a22" font-size="10.6" text-anchor="middle" stroke="#9a9a22" stroke-width="0.3">S</text>
<text x="392" y="623.2" fill="#2f9e3a" font-size="10.6" text-anchor="middle" stroke="#2f9e3a" stroke-width="0.3">B<tspan dx="1.4">'</tspan></text>
<text x="452.4" y="629.4" fill="#a0282a" font-size="10.6" text-anchor="middle" stroke="#a0282a" stroke-width="0.3">C</text>
<text x="369.1" y="634.3" fill="#ff00ff" font-size="10.6" text-anchor="middle" stroke="#ff00ff" stroke-width="0.3">B</text>
<text x="378.2" y="634.3" fill="#8a2be2" font-size="10.6" text-anchor="middle" stroke="#8a2be2" stroke-width="0.3">D</text>
<path d="M25,745.6 26.7,745.7 28.4,746.1 30,746.2 31.7,746.6 33.4,746.3 35.1,746.5 36.8,746.5 38.4,746.3 40.1,746.3 41.8,745.5 43.5,745.6 45.2,745.4 46.8,746.4 50.2,746.2 51.9,745.7 53.6,745.8 55.2,745.6 56.9,746.2 58.6,746.6 60.3,745.8 62,745.5 65.3,745.8 67,746.5 68.7,746.4 72,745.5 73.7,745.5 75.4,745.6 77.1,746.3 78.8,746 80.4,746.6 83.8,746.4 85.5,746 87.2,746.4 88.8,745.6 90.5,745.5 92.2,746.1 93.9,746 95.6,745.7 97.2,745.7 98.9,745.4 100.6,746.5 102.3,746.3 104,746.5 105.6,746.6 107.3,745.9 109,746.3 110.7,745.9 112.4,746.4 114,746.4 115.7,745.6 117.4,745.4 119.1,745.7 120.8,746.1 122.4,745.9 124.1,745.4 125.8,746.4 127.5,746.3 130.8,745.5 132.5,746.5 134.2,746 135.9,745.5 140.9,746.5 142.6,746 144.3,746.2 146,745.6 147.6,745.7 149.3,746.5 151,745.9 152.7,745.5 154.4,746.1 156,745.6 157.7,745.6 159.4,745.9 161.1,746.1 164.4,746.2 166.1,745.9 167.8,745.5 169.5,746.3 171.2,745.5 172.8,746 174.5,745.9 176.2,746.2 177.9,746.3 179.6,745.7 181.2,746.2 182.9,746.2 184.6,746 186.3,745.6 188,746.5 189.6,746.1 191.3,745.5 193,745.7 194.7,746.6 196.4,745.7 198,745.9 199.7,746.3 201.4,746.4 203.1,746.2 204.8,746.3 206.4,745.4 208.1,745.5 209.8,746.6 211.5,746.4 213.2,745.4 214.8,745.5 216.5,745.7 218.2,746.5 219.9,745.7 221.6,746.2 223.2,746.5 224.9,746.2 226.6,746.5 228.3,745.7 231.6,745.4 233.3,746.3 235,745.5 236.7,746.6 238.4,746.3 240,745.6 241.7,746.4 243.4,745.6 245.1,746 246.8,745.5 248.4,746.3 250.1,746.5 251.8,746.5 253.5,745.4 255.2,746.4 256.8,746.1 258.5,746.4 260.2,746" stroke="#c8c8c8" stroke-width="0.9" fill="none"/>
<path d="M25,742.5H260.2" stroke="#c060c0" stroke-width="0.85"/>
<path d="M25,742.3 51,742.1 56.9,741.9 60.3,741.7 63.6,741.2 66.2,740.5 67.8,739.7 68.7,739.2 70.4,738.1 71.2,737.3 72.9,735.5 74.6,733.3 75.4,731.9 77.1,729 79.6,723.7 86.3,707.7 88.8,702.5 91.4,698.2 95.6,692.4 98.1,688.4 100.6,683.5 104.8,674.1 106.5,670.7 107.3,669.3 108.2,668.3 109,667.6 109.8,667.2 110.7,667.3 111.5,667.9 112.4,668.9 113.2,670.4 114,672.3 114.9,674.6 115.7,677.4 117.4,683.7 122.4,705.9 124.1,712.9 126.6,722 128.3,727 130,731 130.8,732.6 132.5,735.4 133.4,736.5 135,738.2 135.9,738.9 137.6,739.9 138.4,740.3 140.1,740.9 141.8,741.3 143.4,741.5 147.6,741.8 153.5,742 167,742.2 187.1,742.3 260.2,742.5" stroke="#ff00ff" stroke-width="1.1" fill="none"/>
<path d="M25,742.4 41,742.4 48.5,742.2 51.9,742 54.4,741.7 56.9,741.3 58.6,740.9 61.1,740.1 64.5,738.8 67,737.5 72.9,734.3 76.2,732.6 85.5,728.7 91.4,726 93.9,725.1 95.6,724.7 96.4,724.6 98.1,724.7 98.9,724.9 100.6,725.5 102.3,726.5 104.8,728.5 112.4,735.7 114.9,737.7 116.6,738.7 118.2,739.7 120.8,740.7 123.3,741.4 126.6,741.9 132.5,742.3 144.3,742.4 260.2,742.5" stroke="#8b0d8b" stroke-width="1.1" fill="none"/>
<path d="M25,742.5 71.2,742.4 79.6,742.3 85.5,742 91.4,741.5 97.2,740.7 102.3,739.8 114,737.5 119.9,736.5 124.1,736 128.3,735.8 132.5,736 136.7,736.6 140.1,737.4 149.3,739.9 155.2,741.1 160.2,741.8 165.3,742.1 172,742.4 181.2,742.4 260.2,742.5" stroke="#8a2be2" stroke-width="1.1" fill="none"/>
<path d="M25,739.9L260.2,741.6" stroke="#8a8aff" stroke-width="0.9"/>
<polyline points="25,738.4 26,738.4 27,738.5 28,737.9 29,737.8 30,738.1 31,737.9 32.1,737.9 33.1,737.6 34.1,738 35.1,737.4 36.1,737.9 37.1,737.7 38.1,737.4 39.1,737 40.1,737.2 41.1,736.8 42.1,736.8 43.1,736.4 44.2,736.8 45.2,736.3 46.2,736 47.2,735.6 48.2,735.9 49.2,735.7 50.2,735.5 51.2,734.7 52.2,734.6 53.2,734.3 54.2,734.4 55.2,733.6 56.2,733.7 57.3,733.6 58.3,733.1 59.3,732.2 60.3,731.8 61.3,731.4 62.3,731.3 63.3,730.7 64.3,730.1 65.3,729.3 66.3,728.5 67.3,727.7 68.3,726.7 69.4,725.8 70.4,724.3 71.4,722.9 72.4,721.3 73.4,719.4 74.4,717.4 75.4,714.7 76.4,712.8 77.4,710.4 78.4,707.5 79.4,705 80.4,701.7 81.4,699.3 82.5,696 83.5,693.2 84.5,690 85.5,687.1 86.5,684.4 87.5,681.7 88.5,679.1 89.5,676.9 90.5,675 91.5,672.7 92.5,670.9 93.5,668.8 94.6,667.1 95.6,665.4 96.6,663.5 97.6,661.5 98.6,659.9 99.6,658.4 100.6,656.7 101.6,655.4 102.6,654.5 103.6,653.4 104.6,652 105.6,651.6 106.6,651.1 107.7,651 108.7,651.2 109.7,651.6 110.7,652.3 111.7,654.3 112.7,655.8 113.7,658.3 114.7,660.8 115.7,663.9 116.7,667.5 117.7,670.5 118.7,674.5 119.8,678.4 120.8,682.3 121.8,686.5 122.8,690.1 123.8,694.2 124.8,697.8 125.8,701.6 126.8,704.3 127.8,707.6 128.8,710.6 129.8,713.8 130.8,715.7 131.8,718.1 132.9,720.5 133.9,722.5 134.9,723.6 135.9,725.2 136.9,726.7 137.9,727.9 138.9,728.9 139.9,729.8 140.9,730.3 141.9,731 142.9,731.4 143.9,732.4 145,732.6 146,733.1 147,734 148,734.1 149,734.4 150,734.8 151,735 152,735.4 153,735.4 154,735.5 155,735.7 156,735.9 157,736.4 158.1,736.4 159.1,736.6 160.1,737 161.1,737.5 162.1,737.5 163.1,737.4 164.1,737.9 165.1,737.6 166.1,737.7 167.1,738 168.1,738.2 169.1,738.5 170.2,738.4 171.2,738.7 172.2,738.4 173.2,739.1 174.2,738.8 175.2,739.2 176.2,738.7 177.2,739.3 178.2,739 179.2,739.5 180.2,739.5 181.2,739.5 182.2,739.2 183.3,739.1 184.3,739.3 185.3,739.8 186.3,739.3 187.3,739.7 188.3,739.7 189.3,739.8 190.3,739.5 191.3,739.5 192.3,739.5 193.3,740.1 194.3,739.7 195.4,739.9 196.4,739.9 197.4,739.7 198.4,739.6 199.4,739.6 200.4,740.2 201.4,739.7 202.4,740.3 203.4,739.9 204.4,740.1 205.4,739.7 206.4,740.2 207.4,739.9 208.5,739.9 209.5,740.1 210.5,739.8 211.5,739.9 212.5,740.3 213.5,740 214.5,740 215.5,740.3 216.5,739.9 217.5,739.9 218.5,740 219.5,740.1 220.6,740.1 221.6,740.3 222.6,740.2 223.6,740.5 224.6,739.9 225.6,740.3 226.6,740.5 227.6,740.1 228.6,739.9 229.6,740.2 230.6,740 231.6,740.3 232.6,740.5 233.7,740 234.7,740.1 235.7,740.3 236.7,740.1 237.7,740.2 238.7,740.3 239.7,740.1 240.7,740.1 241.7,740.3 242.7,740.4 243.7,740.7 244.7,740.5 245.8,740.1 246.8,740.2 247.8,740.6 248.8,740.5 249.8,740.7 250.8,740.8 251.8,740.7 252.8,740.2 253.8,740.8 254.8,740.5 255.8,740.3 256.8,740.3 257.8,740.8 258.9,740.3 259.9,740.3" fill="none" stroke="none" marker-start="url(#dc)" marker-mid="url(#dc)" marker-end="url(#dc)"/>
<path d="M25,738.3 32.6,737.9 39.3,737.3 46,736.1 52.7,734.6 57.8,733.1 60.3,732.1 62,731.4 63.6,730.5 65.3,729.3 67.8,727.2 69.5,725.3 70.4,724.1 72,721.6 73.7,718.6 75.4,715 77.1,711 78.8,706.6 84.6,689.7 87.2,682.7 89.7,676.6 92.2,671.2 93.9,668 96.4,663.6 98.9,659.6 101.4,655.8 103.1,653.7 104.8,652 105.6,651.4 106.5,651 107.3,650.8 108.2,650.8 109,651.1 109.8,651.7 110.7,652.6 111.5,653.8 112.4,655.3 113.2,657 114.9,661.4 116.6,666.6 118.2,672.6 123.3,692.1 125.8,701.2 128.3,709.3 130.8,716 131.7,717.9 133.4,721.3 134.2,722.7 135.9,725.3 137.6,727.4 139.2,729.1 140.9,730.4 142.6,731.6 145.1,732.9 148.5,734.2 151.8,735.2 156,736.2 160.2,737.1 165.3,737.9 170.3,738.5 176.2,739 186.3,739.6 198.9,739.9 260.2,740.6" stroke="#f01e1e" stroke-width="1.05" fill="none"/>
<text x="111" y="679.1" fill="#ff00ff" font-size="10.6" text-anchor="middle" stroke="#ff00ff" stroke-width="0.3">B</text>
<text x="97.2" y="735.3" fill="#8b0d8b" font-size="10.6" text-anchor="middle" stroke="#8b0d8b" stroke-width="0.3">Z</text>
<text x="132" y="743.7" fill="#8a2be2" font-size="10.6" text-anchor="middle" stroke="#8a2be2" stroke-width="0.3">D</text>
<path d="M284.3,743.2 286,744 287.7,743.5 289.4,743.8 291,743 292.7,743.4 296.1,743.1 297.8,743.7 301.2,743 302.8,744.1 304.5,743.5 306.2,743.1 307.9,742.9 309.6,743.7 311.3,743.5 312.9,742.9 314.6,743.5 316.3,743.8 319.7,743.2 321.4,743.5 324.7,743.7 326.4,743.1 328.1,743.9 329.8,744 331.5,743.8 333.2,743.9 334.9,743.3 336.5,744 338.2,743.1 339.9,743.2 343.3,744 345,743 346.6,743.2 348.3,742.9 350,743.4 351.7,743.1 353.4,743.1 355.1,743.8 356.8,743.6 358.4,744 360.1,743.4 361.8,743.7 363.5,742.9 365.2,744 366.9,743.2 368.6,743.5 370.2,743.5 371.9,744 373.6,743.5 375.3,744.1 378.7,743.2 380.3,743.9 382,743.1 383.7,744.1 385.4,743.4 387.1,743.2 388.8,744.1 390.5,743.3 392.1,743.4 393.8,743.3 395.5,743.7 397.2,742.9 398.9,743.3 400.6,743.1 402.2,743.9 403.9,742.9 405.6,743.6 407.3,743.2 412.4,743.8 414,743.1 415.7,743.2 417.4,743 419.1,744.1 420.8,743.1 422.5,743.1 424.2,743.5 425.8,743.6 427.5,744 429.2,743 430.9,743.2 432.6,743.1 434.3,743.6 437.6,743.4 439.3,744 441,743.7 442.7,743.9 444.4,744 446.1,743.2 447.7,744 449.4,743.4 451.1,743 452.8,744 454.5,743 456.2,742.9 457.9,743.2 459.5,743.2 461.2,744.1 462.9,743.9 464.6,743.4 466.3,743.5 468,743.9 469.7,743.9 473,743.5 474.7,743 476.4,743.2 478.1,743.7 479.8,743.6 481.4,743.9 484.8,744.1 486.5,743.1 488.2,743 489.9,744 493.2,743.1 494.9,743.7 496.6,743.2 498.3,743.2 503.4,743.7 505,743 506.7,743.8 510.1,743.5 513.5,743.9 515.1,742.9 516.8,743.5 518.5,743.7 520.2,743.8" stroke="#c8c8c8" stroke-width="0.9" fill="none"/>
<path d="M284.3,738.3H520.2" stroke="#c060c0" stroke-width="0.85"/>
<path d="M284.3,738.2 310.4,738 316.3,737.8 319.7,737.6 323.1,737.1 325.6,736.4 328.1,735.3 329.8,734.3 331.5,732.9 333.2,731.1 334.9,728.9 336.5,726.4 339.1,722 345,710.8 346.6,707.9 348.3,705.4 350.9,702.1 355.1,697.4 357.6,694.1 359.3,691.4 363.5,683.9 365.2,681.2 366,680.1 366.9,679.2 367.7,678.6 368.6,678.2 369.4,678.2 370.2,678.6 371.1,679.3 371.9,680.4 372.8,681.9 373.6,683.7 374.4,685.8 375.3,688.2 377,693.5 382.9,714 385.4,721.4 387.1,725.4 388.8,728.7 389.6,730.1 391.3,732.3 392.1,733.3 393.8,734.7 394.7,735.3 396.4,736.1 398.9,736.9 402.2,737.5 406.5,737.8 412.4,737.9 446.1,738.2 520.2,738.3" stroke="#ff00ff" stroke-width="1.1" fill="none"/>
<path d="M284.3,738.2 296.9,738.2 304.5,738.1 310.4,737.8 315.5,737.2 319.7,736.5 323.9,735.6 328.1,734.4 339.1,731.2 345.8,729.5 350.9,728.6 353.4,728.3 355.1,728.3 356.8,728.4 358.4,728.6 360.1,728.9 362.7,729.6 366,730.9 374.4,734.5 377,735.4 379.5,736.2 382,736.8 384.6,737.2 387.9,737.7 391.3,737.9 398,738.1 409.8,738.2 520.2,738.3" stroke="#8b0d8b" stroke-width="1.1" fill="none"/>
<path d="M284.3,738.3 337.4,738.2 344.1,738 349.2,737.7 353.4,737.1 356.8,736.2 360.1,735.2 366.9,732.7 370.2,731.6 378.7,729.3 386.2,727 388.8,726.4 390.5,726.3 392.1,726.4 393,726.6 394.7,727.1 396.4,727.8 398.9,729.3 405.6,733.7 408.1,735.1 409.8,735.8 411.5,736.4 414,737.1 415.7,737.4 418.3,737.8 423.3,738.1 432.6,738.2 520.2,738.3" stroke="#8a2be2" stroke-width="1.1" fill="none"/>
<path d="M284.3,728.3L520.2,732.2" stroke="#8a8aff" stroke-width="0.9"/>
<polyline points="284.3,727.2 285.3,726.8 286.3,727.4 287.3,727.3 288.3,726.9 289.4,727 290.4,727.4 291.4,726.9 292.4,727 293.4,727.4 294.4,727.3 295.4,726.8 296.4,727.2 297.4,726.9 298.5,727 299.5,727.1 300.5,726.6 301.5,726.6 302.5,726.5 303.5,726.4 304.5,726.2 305.5,726.1 306.5,726.2 307.6,726 308.6,725.6 309.6,725.8 310.6,725.9 311.6,725.4 312.6,725 313.6,725 314.6,724.5 315.6,724 316.7,723.9 317.7,723.2 318.7,723.3 319.7,722.6 320.7,722.3 321.7,722.2 322.7,721.5 323.7,721 324.7,720.2 325.8,719.5 326.8,718.7 327.8,718 328.8,716.4 329.8,715.7 330.8,714.2 331.8,712.8 332.8,711.7 333.8,709.9 334.9,708.4 335.9,706.5 336.9,704.4 337.9,702.1 338.9,699.9 339.9,698.1 340.9,696.1 341.9,693.7 342.9,691.6 343.9,689.6 345,687.9 346,686.5 347,684.4 348,683.1 349,681.8 350,680.8 351,679.8 352,677.9 353,676.7 354.1,675.9 355.1,674.6 356.1,672.5 357.1,671 358.1,669.5 359.1,667.6 360.1,665.9 361.1,664.1 362.1,662.3 363.2,660.5 364.2,659.1 365.2,658 366.2,657.1 367.2,657 368.2,657 369.2,657 370.2,658.2 371.2,659.4 372.3,660.7 373.3,662.8 374.3,665 375.3,668.1 376.3,670.6 377.3,673.2 378.3,676.3 379.3,679.8 380.3,682.7 381.4,685.9 382.4,688.5 383.4,691.7 384.4,694.4 385.4,696.3 386.4,699 387.4,700.9 388.4,703.2 389.4,705 390.5,706.7 391.5,707.8 392.5,709.1 393.5,710.7 394.5,711.8 395.5,712.6 396.5,713.6 397.5,714.8 398.5,715.3 399.6,716.5 400.6,717 401.6,717.7 402.6,718.5 403.6,719.3 404.6,720 405.6,720.2 406.6,721.2 407.6,721.4 408.7,722 409.7,722.8 410.7,723.3 411.7,723.7 412.7,724.4 413.7,724.3 414.7,724.8 415.7,725.4 416.7,725.5 417.8,725.8 418.8,726.2 419.8,726.8 420.8,727.2 421.8,727.3 422.8,727.7 423.8,727.8 424.8,727.7 425.8,727.9 426.9,728.4 427.9,728 428.9,728.6 429.9,728.3 430.9,728.4 431.9,728.9 432.9,728.7 433.9,729.3 434.9,729.4 436,729.2 437,729.1 438,729.1 439,729.4 440,729.5 441,729.4 442,729.7 443,729.6 444,729.8 445,729.4 446.1,729.4 447.1,729.6 448.1,729.7 449.1,729.6 450.1,729.9 451.1,729.6 452.1,729.7 453.1,729.9 454.1,730 455.2,730.1 456.2,729.9 457.2,729.9 458.2,730.3 459.2,730.3 460.2,730.1 461.2,729.8 462.2,730 463.2,730.2 464.3,730 465.3,729.8 466.3,730.5 467.3,730.5 468.3,729.9 469.3,730.2 470.3,730.3 471.3,730.1 472.3,730 473.4,730.5 474.4,730.5 475.4,730.3 476.4,730.1 477.4,730.3 478.4,730.1 479.4,730.7 480.4,730.1 481.4,730.3 482.5,730.7 483.5,730.2 484.5,730.2 485.5,730.2 486.5,730.3 487.5,730.6 488.5,730.8 489.5,730.4 490.5,730.4 491.6,730.8 492.6,730.6 493.6,730.6 494.6,730.4 495.6,730.5 496.6,731.1 497.6,730.5 498.6,730.6 499.6,731 500.7,731.1 501.7,731.1 502.7,730.8 503.7,731.2 504.7,731 505.7,730.7 506.7,730.9 507.7,731.1 508.7,731.1 509.8,730.7 510.8,730.8 511.8,731.3 512.8,730.7 513.8,731.3 514.8,730.9 515.8,730.9 516.8,730.9 517.8,731.1 518.9,731.5 519.9,730.9" fill="none" stroke="none" marker-start="url(#dc)" marker-mid="url(#dc)" marker-end="url(#dc)"/>
<path d="M284.3,727.1 293.6,727 300.3,726.8 305.4,726.4 310.4,725.6 312.9,725 315.5,724.3 319.7,722.8 323.1,721.1 324.7,720.1 326.4,718.8 329,716.5 330.6,714.5 332.3,712.2 334,709.6 335.7,706.6 337.4,703.3 343.3,691.2 345,688.1 346.6,685.3 349.2,681.7 353.4,676.5 355.9,673 358.4,668.9 361.8,663 363.5,660.3 365.2,658.2 366,657.5 366.9,657 367.7,656.8 368.6,656.9 369.4,657.3 370.2,658 371.1,659 371.9,660.2 373.6,663.6 374.4,665.6 376.1,670.1 382,687.7 384.6,694.6 387.1,700.4 388.8,703.7 390.5,706.5 392.1,708.9 394.7,711.9 396.4,713.6 398.9,715.8 401.4,717.8 404.8,720 407.3,721.4 410.7,723.2 413.2,724.3 415.7,725.3 418.3,726.2 421.6,727.1 424.2,727.7 427.5,728.3 430.9,728.7 435.1,729.1 442.7,729.6 454.5,729.9 520.2,731.2" stroke="#f01e1e" stroke-width="1.05" fill="none"/>
<text x="369.3" y="690.7" fill="#ff00ff" font-size="10.6" text-anchor="middle" stroke="#ff00ff" stroke-width="0.3">B</text>
<text x="354.6" y="737.8" fill="#8b0d8b" font-size="10.6" text-anchor="middle" stroke="#8b0d8b" stroke-width="0.3">Z</text>
<text x="391" y="736.2" fill="#8a2be2" font-size="10.6" text-anchor="middle" stroke="#8a2be2" stroke-width="0.3">D</text>
<g stroke="#bdbdbd" stroke-width="0.8"><line x1="288.3" y1="421.2" x2="297.4" y2="424.5"/><line x1="302.2" y1="421.2" x2="297.4" y2="424.5"/><line x1="302.2" y1="421.2" x2="311.2" y2="424.5"/><line x1="316" y1="421.2" x2="311.2" y2="424.5"/><line x1="316" y1="421.2" x2="325.1" y2="424.5"/><line x1="329.9" y1="421.2" x2="325.1" y2="424.5"/><line x1="329.9" y1="421.2" x2="338.9" y2="424.5"/><line x1="343.7" y1="421.2" x2="338.9" y2="424.5"/><line x1="343.7" y1="421.2" x2="352.8" y2="424.5"/><line x1="357.6" y1="421.2" x2="352.8" y2="424.5"/><line x1="357.6" y1="421.2" x2="366.6" y2="424.5"/><line x1="371.4" y1="421.2" x2="366.6" y2="424.5"/><line x1="297.4" y1="424.5" x2="297.4" y2="434.5"/><line x1="311.2" y1="424.5" x2="311.2" y2="434.5"/><line x1="325.1" y1="424.5" x2="325.1" y2="434.5"/><line x1="338.9" y1="424.5" x2="338.9" y2="434.5"/><line x1="352.8" y1="424.5" x2="352.8" y2="434.5"/><line x1="366.6" y1="424.5" x2="366.6" y2="434.5"/><line x1="297.4" y1="434.5" x2="292.6" y2="437.7"/><line x1="297.4" y1="434.5" x2="306.5" y2="437.7"/><line x1="311.2" y1="434.5" x2="306.5" y2="437.7"/><line x1="311.2" y1="434.5" x2="320.3" y2="437.7"/><line x1="325.1" y1="434.5" x2="320.3" y2="437.7"/><line x1="325.1" y1="434.5" x2="334.2" y2="437.7"/><line x1="338.9" y1="434.5" x2="334.2" y2="437.7"/><line x1="338.9" y1="434.5" x2="348" y2="437.7"/><line x1="352.8" y1="434.5" x2="348" y2="437.7"/><line x1="352.8" y1="434.5" x2="361.9" y2="437.7"/><line x1="366.6" y1="434.5" x2="361.9" y2="437.7"/><line x1="366.6" y1="434.5" x2="375.7" y2="437.7"/><line x1="292.6" y1="437.7" x2="292.6" y2="447.4"/><line x1="306.5" y1="437.7" x2="306.5" y2="447.4"/><line x1="320.3" y1="437.7" x2="320.3" y2="447.4"/><line x1="334.2" y1="437.7" x2="334.2" y2="447.4"/><line x1="348" y1="437.7" x2="348" y2="447.4"/><line x1="361.9" y1="437.7" x2="361.9" y2="447.4"/><line x1="375.7" y1="437.7" x2="375.7" y2="447.4"/><line x1="292.6" y1="447.4" x2="288.3" y2="450.7"/><line x1="292.6" y1="447.4" x2="302.2" y2="450.7"/><line x1="306.5" y1="447.4" x2="302.2" y2="450.7"/><line x1="306.5" y1="447.4" x2="316" y2="450.7"/><line x1="320.3" y1="447.4" x2="316" y2="450.7"/><line x1="320.3" y1="447.4" x2="329.9" y2="450.7"/><line x1="334.2" y1="447.4" x2="329.9" y2="450.7"/><line x1="334.2" y1="447.4" x2="343.7" y2="450.7"/><line x1="348" y1="447.4" x2="343.7" y2="450.7"/><line x1="348" y1="447.4" x2="357.6" y2="450.7"/><line x1="361.9" y1="447.4" x2="357.6" y2="450.7"/><line x1="361.9" y1="447.4" x2="371.4" y2="450.7"/><line x1="375.7" y1="447.4" x2="371.4" y2="450.7"/><line x1="288.3" y1="450.7" x2="288.3" y2="460.3"/><line x1="302.2" y1="450.7" x2="302.2" y2="460.3"/><line x1="316" y1="450.7" x2="316" y2="460.3"/><line x1="329.9" y1="450.7" x2="329.9" y2="460.3"/><line x1="343.7" y1="450.7" x2="343.7" y2="460.3"/><line x1="357.6" y1="450.7" x2="357.6" y2="460.3"/><line x1="371.4" y1="450.7" x2="371.4" y2="460.3"/><line x1="288.3" y1="460.3" x2="292.6" y2="464"/><line x1="302.2" y1="460.3" x2="292.6" y2="464"/><line x1="302.2" y1="460.3" x2="306.5" y2="464"/><line x1="316" y1="460.3" x2="306.5" y2="464"/><line x1="316" y1="460.3" x2="320.3" y2="464"/><line x1="329.9" y1="460.3" x2="320.3" y2="464"/><line x1="329.9" y1="460.3" x2="334.2" y2="464"/><line x1="343.7" y1="460.3" x2="334.2" y2="464"/><line x1="343.7" y1="460.3" x2="348" y2="464"/><line x1="357.6" y1="460.3" x2="348" y2="464"/><line x1="357.6" y1="460.3" x2="361.9" y2="464"/><line x1="371.4" y1="460.3" x2="361.9" y2="464"/><line x1="371.4" y1="460.3" x2="375.7" y2="464"/><line x1="287.8" y1="409.9" x2="288.3" y2="421.2"/><line x1="299.6" y1="409.9" x2="302" y2="421.2"/><line x1="317.1" y1="409.9" x2="316.1" y2="421.2"/><line x1="287.8" y1="409.9" x2="295" y2="408.8"/><line x1="295" y1="408.8" x2="299.6" y2="409.9"/><line x1="299.6" y1="409.9" x2="306.1" y2="408.8"/><line x1="306.1" y1="408.8" x2="317.1" y2="409.9"/><line x1="329" y1="409.4" x2="373.6" y2="409.4"/><line x1="331.9" y1="409.4" x2="335.1" y2="403.1"/><line x1="335.1" y1="403.1" x2="342.7" y2="409.4"/><line x1="346.1" y1="409.4" x2="353" y2="403.1"/><line x1="353" y1="403.1" x2="356.4" y2="409.4"/><line x1="359.3" y1="409.4" x2="362.7" y2="403.1"/><line x1="362.7" y1="403.1" x2="370.7" y2="409.4"/><line x1="330.5" y1="409.4" x2="330" y2="421.2"/><line x1="344.4" y1="409.4" x2="344" y2="421.2"/><line x1="357.8" y1="409.4" x2="358" y2="421.2"/><line x1="373.6" y1="409.4" x2="372" y2="421.2"/></g>
<g fill="#1a1a1a"><circle cx="297.4" cy="424.5" r="1.4"/><circle cx="311.2" cy="424.5" r="1.4"/><circle cx="325.1" cy="424.5" r="1.4"/><circle cx="338.9" cy="424.5" r="1.4"/><circle cx="352.8" cy="424.5" r="1.4"/><circle cx="366.6" cy="424.5" r="1.4"/><circle cx="292.6" cy="437.7" r="1.4"/><circle cx="306.5" cy="437.7" r="1.4"/><circle cx="320.3" cy="437.7" r="1.4"/><circle cx="334.2" cy="437.7" r="1.4"/><circle cx="348" cy="437.7" r="1.4"/><circle cx="361.9" cy="437.7" r="1.4"/><circle cx="375.7" cy="437.7" r="1.4"/><circle cx="288.3" cy="450.7" r="1.4"/><circle cx="302.2" cy="450.7" r="1.4"/><circle cx="316" cy="450.7" r="1.4"/><circle cx="329.9" cy="450.7" r="1.4"/><circle cx="343.7" cy="450.7" r="1.4"/><circle cx="357.6" cy="450.7" r="1.4"/><circle cx="371.4" cy="450.7" r="1.4"/><circle cx="292.6" cy="464" r="1.4"/><circle cx="306.5" cy="464" r="1.4"/><circle cx="320.3" cy="464" r="1.4"/><circle cx="334.2" cy="464" r="1.4"/><circle cx="348" cy="464" r="1.4"/><circle cx="361.9" cy="464" r="1.4"/><circle cx="375.7" cy="464" r="1.4"/><circle cx="287.8" cy="409.9" r="1.4"/><circle cx="295" cy="408.8" r="1.4"/><circle cx="299.6" cy="409.9" r="1.4"/><circle cx="306.1" cy="408.8" r="1.4"/><circle cx="310.3" cy="408.8" r="1.4"/><circle cx="317.1" cy="409.9" r="1.4"/></g>
<g fill="#1e88d8"><circle cx="288.3" cy="421.2" r="2.15"/><circle cx="302.2" cy="421.2" r="2.15"/><circle cx="316" cy="421.2" r="2.15"/><circle cx="329.9" cy="421.2" r="2.15"/><circle cx="343.7" cy="421.2" r="2.15"/><circle cx="357.6" cy="421.2" r="2.15"/><circle cx="371.4" cy="421.2" r="2.15"/><circle cx="297.4" cy="434.5" r="2.15"/><circle cx="311.2" cy="434.5" r="2.15"/><circle cx="325.1" cy="434.5" r="2.15"/><circle cx="338.9" cy="434.5" r="2.15"/><circle cx="352.8" cy="434.5" r="2.15"/><circle cx="366.6" cy="434.5" r="2.15"/><circle cx="292.6" cy="447.4" r="2.15"/><circle cx="306.5" cy="447.4" r="2.15"/><circle cx="320.3" cy="447.4" r="2.15"/><circle cx="334.2" cy="447.4" r="2.15"/><circle cx="348" cy="447.4" r="2.15"/><circle cx="361.9" cy="447.4" r="2.15"/><circle cx="375.7" cy="447.4" r="2.15"/><circle cx="288.3" cy="460.3" r="2.15"/><circle cx="302.2" cy="460.3" r="2.15"/><circle cx="316" cy="460.3" r="2.15"/><circle cx="329.9" cy="460.3" r="2.15"/><circle cx="343.7" cy="460.3" r="2.15"/><circle cx="357.6" cy="460.3" r="2.15"/><circle cx="371.4" cy="460.3" r="2.15"/><circle cx="329" cy="409.4" r="2.15"/><circle cx="331.9" cy="409.4" r="2.15"/><circle cx="342.7" cy="409.4" r="2.15"/><circle cx="346.1" cy="409.4" r="2.15"/><circle cx="356.4" cy="409.4" r="2.15"/><circle cx="359.3" cy="409.4" r="2.15"/><circle cx="370.7" cy="409.4" r="2.15"/><circle cx="335.1" cy="403.1" r="2.15"/><circle cx="353" cy="403.1" r="2.15"/></g>
<circle cx="302" cy="421.2" r="2.15" fill="#8b0d8b"/>
<circle cx="306.9" cy="447.4" r="2.15" fill="#ff00ff"/>
<circle cx="348.8" cy="447.4" r="2.15" fill="#1f8a2a"/>
<circle cx="362.7" cy="403.1" r="2.15" fill="#8a8a18"/>
<circle cx="373.6" cy="409.4" r="2.15" fill="#10107a"/>
<circle cx="372" cy="421.2" r="2.15" fill="#10107a"/>
<line x1="328.7" y1="387.2" x2="373.2" y2="387.2" stroke="#aaa" stroke-width="0.8"/>
<g fill="#111"><circle cx="328.7" cy="387.2" r="1.5"/><circle cx="335.5" cy="387.2" r="1.5"/><circle cx="339.7" cy="387.2" r="1.5"/><circle cx="346.5" cy="387.2" r="1.5"/><circle cx="350.7" cy="387.2" r="1.5"/><circle cx="358" cy="387.2" r="1.5"/><circle cx="362.2" cy="387.2" r="1.5"/><circle cx="369" cy="387.2" r="1.5"/><circle cx="373.2" cy="387.2" r="1.5"/></g>
<text x="330.8" y="382.5" fill="#111" font-size="9.4" stroke="#111" stroke-width="0.12" textLength="40.3" lengthAdjust="spacingAndGlyphs">QFMLG</text>
<text x="297.4" y="405.2" fill="#111" font-size="10.4" stroke="#111" stroke-width="0.12" textLength="13.2" lengthAdjust="spacingAndGlyphs">ZL</text>
<text x="365.6" y="405.5" fill="#8a8a18" font-size="10.5" stroke="#8a8a18" stroke-width="0.4" >S</text>
<text x="376.2" y="420.2" fill="#10107a" font-size="10.5" stroke="#10107a" stroke-width="0.4" >T</text>
<text x="301.5" y="433.3" fill="#8b0d8b" font-size="10.5" stroke="#8b0d8b" stroke-width="0.4" >Z</text>
<text x="305.8" y="460.2" fill="#ff00ff" font-size="10.5" stroke="#ff00ff" stroke-width="0.4" >B</text>
<text x="346.8" y="460.2" fill="#1f8a2a" font-size="10.5" stroke="#1f8a2a" stroke-width="0.4" >B'</text>
<text x="302.8" y="474.3" fill="#111" font-size="10.5" stroke="#111" stroke-width="0.4" font-weight="bold">C</text>
<text x="322.8" y="472.2" fill="#1e88d8" font-size="10.5" stroke="#1e88d8" stroke-width="0.4" font-weight="bold">Si</text>
<g stroke="#6a6a6a" stroke-width="1.2"><line x1="25.3" y1="17" x2="25.3" y2="752.5"/><line x1="284.4" y1="17" x2="284.4" y2="752.5"/></g>
<g stroke="#333" stroke-width="0.9"><line x1="25.1" y1="749.3" x2="260.6" y2="749.3"/><line x1="284.4" y1="749.3" x2="520.3" y2="749.3"/></g>
<g stroke="#333" stroke-width="0.9"><line x1="25" y1="749.3" x2="25" y2="752.5"/><line x1="58.6" y1="749.3" x2="58.6" y2="752.5"/><line x1="92.2" y1="749.3" x2="92.2" y2="752.5"/><line x1="125.8" y1="749.3" x2="125.8" y2="752.5"/><line x1="159.4" y1="749.3" x2="159.4" y2="752.5"/><line x1="193" y1="749.3" x2="193" y2="752.5"/><line x1="226.6" y1="749.3" x2="226.6" y2="752.5"/><line x1="260.2" y1="749.3" x2="260.2" y2="752.5"/><line x1="284.3" y1="749.3" x2="284.3" y2="752.5"/><line x1="318" y1="749.3" x2="318" y2="752.5"/><line x1="351.7" y1="749.3" x2="351.7" y2="752.5"/><line x1="385.4" y1="749.3" x2="385.4" y2="752.5"/><line x1="419.1" y1="749.3" x2="419.1" y2="752.5"/><line x1="452.8" y1="749.3" x2="452.8" y2="752.5"/><line x1="486.5" y1="749.3" x2="486.5" y2="752.5"/><line x1="520.2" y1="749.3" x2="520.2" y2="752.5"/></g>
<g font-size="10" fill="#111" stroke="#111" stroke-width="0.22"><text x="16.9" y="762.5" textLength="17" lengthAdjust="spacingAndGlyphs" stroke="#111" stroke-width="0.22">104</text><text x="50.5" y="762.5" textLength="17" lengthAdjust="spacingAndGlyphs" stroke="#111" stroke-width="0.22">103</text><text x="84.1" y="762.5" textLength="17" lengthAdjust="spacingAndGlyphs" stroke="#111" stroke-width="0.22">102</text><text x="117.7" y="762.5" textLength="17" lengthAdjust="spacingAndGlyphs" stroke="#111" stroke-width="0.22">101</text><text x="151.3" y="762.5" textLength="17" lengthAdjust="spacingAndGlyphs" stroke="#111" stroke-width="0.22">100</text><text x="187.7" y="762.5" textLength="11.5" lengthAdjust="spacingAndGlyphs" stroke="#111" stroke-width="0.22">99</text><text x="221.3" y="762.5" textLength="11.5" lengthAdjust="spacingAndGlyphs" stroke="#111" stroke-width="0.22">98</text><text x="254.9" y="762.5" textLength="11.5" lengthAdjust="spacingAndGlyphs" stroke="#111" stroke-width="0.22">97</text><text x="276.2" y="762.5" textLength="17" lengthAdjust="spacingAndGlyphs" stroke="#111" stroke-width="0.22">104</text><text x="309.9" y="762.5" textLength="17" lengthAdjust="spacingAndGlyphs" stroke="#111" stroke-width="0.22">103</text><text x="343.6" y="762.5" textLength="17" lengthAdjust="spacingAndGlyphs" stroke="#111" stroke-width="0.22">102</text><text x="377.3" y="762.5" textLength="17" lengthAdjust="spacingAndGlyphs" stroke="#111" stroke-width="0.22">101</text><text x="411" y="762.5" textLength="17" lengthAdjust="spacingAndGlyphs" stroke="#111" stroke-width="0.22">100</text><text x="447.4" y="762.5" textLength="11.5" lengthAdjust="spacingAndGlyphs" stroke="#111" stroke-width="0.22">99</text><text x="481.1" y="762.5" textLength="11.5" lengthAdjust="spacingAndGlyphs" stroke="#111" stroke-width="0.22">98</text><text x="514.9" y="762.5" textLength="11.5" lengthAdjust="spacingAndGlyphs" stroke="#111" stroke-width="0.22">97</text></g>
<text x="69.4" y="778" font-size="14.4" fill="#111" textLength="146.6" lengthAdjust="spacingAndGlyphs">Binding Energy (eV)</text>
<text x="328.6" y="778" font-size="14.4" fill="#111" textLength="146.6" lengthAdjust="spacingAndGlyphs">Binding Energy (eV)</text>
<text transform="translate(11,513.5) rotate(-90)" font-size="15.2" fill="#111" textLength="261" lengthAdjust="spacingAndGlyphs">Photoemission Intensity (arb. units)</text>
<text x="254.8" y="11.2" font-size="14.3" fill="#111" textLength="35.5" lengthAdjust="spacingAndGlyphs">Si 2<tspan font-style="italic">p</tspan></text>
<text x="117.7" y="26.6" font-size="14.4" fill="#111" textLength="77.2" lengthAdjust="spacingAndGlyphs"><tspan font-style="italic">h</tspan>ν=326 eV</text>
<text x="376.5" y="26.6" font-size="14.4" fill="#111" textLength="77.5" lengthAdjust="spacingAndGlyphs"><tspan font-style="italic">h</tspan>ν=132 eV</text>
<text x="31" y="28.3" font-size="14.8" fill="#111" textLength="20.6" lengthAdjust="spacingAndGlyphs">(a)</text>
<text x="31" y="45.8" font-size="15.5" fill="#b41e28" textLength="17.7" lengthAdjust="spacingAndGlyphs">ZL</text>
<text x="30.8" y="139.0" font-size="14.8" fill="#111" textLength="20.1" lengthAdjust="spacingAndGlyphs">(b)</text>
<text x="30.8" y="154.8" font-size="13.8" fill="#111" textLength="68.9" lengthAdjust="spacingAndGlyphs">3.3-ML Si</text>
<text x="30.8" y="171.4" font-size="13.8" fill="#111" textLength="13.3" lengthAdjust="spacingAndGlyphs">at</text>
<text x="48.6" y="171.4" font-size="13.8" fill="#b41e28" textLength="19.8" lengthAdjust="spacingAndGlyphs">RT</text>
<text x="31.9" y="281.3" font-size="14.8" fill="#111" textLength="19.0" lengthAdjust="spacingAndGlyphs">(c)</text>
<text x="31.9" y="298.1" font-size="14.4" fill="#b41e28" textLength="46.7" lengthAdjust="spacingAndGlyphs">650 °C</text>
<text x="31.1" y="395.5" font-size="14.8" fill="#111" textLength="19.8" lengthAdjust="spacingAndGlyphs">(d)</text>
<text x="31.1" y="412.3" font-size="14.4" fill="#b41e28" textLength="46.5" lengthAdjust="spacingAndGlyphs">750 °C</text>
<text x="31.1" y="526.7" font-size="14.8" fill="#111" textLength="19.8" lengthAdjust="spacingAndGlyphs">(e)</text>
<text x="31.1" y="543.5" font-size="14.4" fill="#b41e28" textLength="46.5" lengthAdjust="spacingAndGlyphs">850 °C</text>
<text x="31.1" y="660.5" font-size="14.8" fill="#111" textLength="15.2" lengthAdjust="spacingAndGlyphs">(f)</text>
<text x="31.9" y="677.3" font-size="14.4" fill="#b41e28" textLength="53.3" lengthAdjust="spacingAndGlyphs">1150 °C</text>
<text x="203.3" y="341.7" font-size="10.5" font-weight="bold" fill="#111" stroke="#111" stroke-width="0.22">×2</text>
<text x="476.2" y="342" font-size="10.5" font-weight="bold" fill="#111" stroke="#111" stroke-width="0.22">×2</text>
<text x="203.3" y="473" font-size="10.5" font-weight="bold" fill="#111" stroke="#111" stroke-width="0.22">×2</text>
<text x="476.3" y="473.1" font-size="10.5" font-weight="bold" fill="#111" stroke="#111" stroke-width="0.22">×2</text>
<text x="418.9" y="94" font-size="10.8" fill="#9a2cf0" stroke="#9a2cf0" stroke-width="0.25" textLength="88.7" lengthAdjust="spacingAndGlyphs">D: surface defects</text>
<text x="301.5" y="159.1" font-size="10.8" fill="#8f8f1f" stroke="#8f8f1f" stroke-width="0.2" textLength="109.8" lengthAdjust="spacingAndGlyphs">S*: deposited Si atoms</text>
<text x="301.5" y="178.1" font-size="10.5" fill="#a0282a" stroke="#a0282a" stroke-width="0.2" textLength="103.6" lengthAdjust="spacingAndGlyphs">C: Si atoms adsorbed</text>
<text x="301.5" y="189.3" font-size="10.5" fill="#a0282a" stroke="#a0282a" stroke-width="0.2" textLength="80.6" lengthAdjust="spacingAndGlyphs">on defects/steps</text>
</svg></body></html>
